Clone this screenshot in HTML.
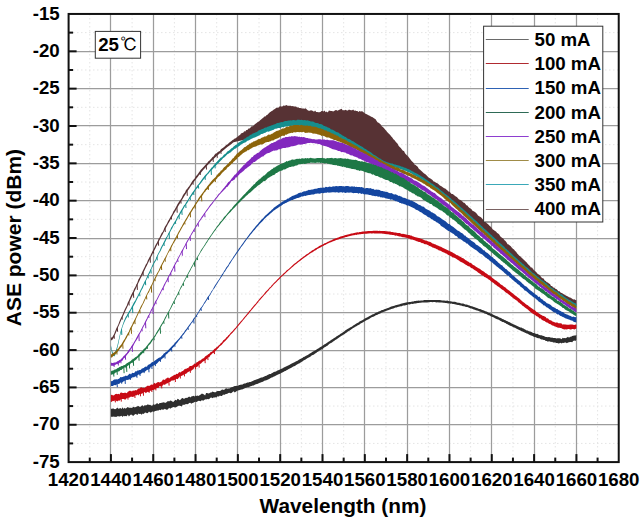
<!DOCTYPE html>
<html><head><meta charset="utf-8"><style>
html,body{margin:0;padding:0;background:#fff;}
body{width:642px;height:520px;overflow:hidden;position:relative;}
svg{position:absolute;left:0;top:0;}
.mi{stroke:#e4e4e4;stroke-width:1;stroke-dasharray:1.5 2.5;}
.ma{stroke:#9c9c9c;stroke-width:1.25;}
.tk line{stroke:#111;stroke-width:2;}
text{font-family:"Liberation Sans",Arial,sans-serif;font-weight:bold;font-size:18.7px;fill:#000;}
</style></head><body>
<svg width="642" height="520" viewBox="0 0 642 520">
<g><line x1="89.76" y1="14" x2="89.76" y2="462" class="mi"/><line x1="132.08" y1="14" x2="132.08" y2="462" class="mi"/><line x1="174.39" y1="14" x2="174.39" y2="462" class="mi"/><line x1="216.71" y1="14" x2="216.71" y2="462" class="mi"/><line x1="259.03" y1="14" x2="259.03" y2="462" class="mi"/><line x1="301.35" y1="14" x2="301.35" y2="462" class="mi"/><line x1="343.67" y1="14" x2="343.67" y2="462" class="mi"/><line x1="385.99" y1="14" x2="385.99" y2="462" class="mi"/><line x1="428.30" y1="14" x2="428.30" y2="462" class="mi"/><line x1="470.62" y1="14" x2="470.62" y2="462" class="mi"/><line x1="512.94" y1="14" x2="512.94" y2="462" class="mi"/><line x1="555.26" y1="14" x2="555.26" y2="462" class="mi"/><line x1="597.58" y1="14" x2="597.58" y2="462" class="mi"/><line x1="69" y1="32.62" x2="618" y2="32.62" class="mi"/><line x1="69" y1="69.97" x2="618" y2="69.97" class="mi"/><line x1="69" y1="107.31" x2="618" y2="107.31" class="mi"/><line x1="69" y1="144.66" x2="618" y2="144.66" class="mi"/><line x1="69" y1="182.00" x2="618" y2="182.00" class="mi"/><line x1="69" y1="219.35" x2="618" y2="219.35" class="mi"/><line x1="69" y1="256.69" x2="618" y2="256.69" class="mi"/><line x1="69" y1="294.04" x2="618" y2="294.04" class="mi"/><line x1="69" y1="331.38" x2="618" y2="331.38" class="mi"/><line x1="69" y1="368.73" x2="618" y2="368.73" class="mi"/><line x1="69" y1="406.07" x2="618" y2="406.07" class="mi"/><line x1="69" y1="443.42" x2="618" y2="443.42" class="mi"/><line x1="110.50" y1="14" x2="110.50" y2="462" class="ma"/><line x1="153.50" y1="14" x2="153.50" y2="462" class="ma"/><line x1="195.50" y1="14" x2="195.50" y2="462" class="ma"/><line x1="237.50" y1="14" x2="237.50" y2="462" class="ma"/><line x1="280.50" y1="14" x2="280.50" y2="462" class="ma"/><line x1="322.50" y1="14" x2="322.50" y2="462" class="ma"/><line x1="364.50" y1="14" x2="364.50" y2="462" class="ma"/><line x1="407.50" y1="14" x2="407.50" y2="462" class="ma"/><line x1="449.50" y1="14" x2="449.50" y2="462" class="ma"/><line x1="491.50" y1="14" x2="491.50" y2="462" class="ma"/><line x1="534.50" y1="14" x2="534.50" y2="462" class="ma"/><line x1="576.50" y1="14" x2="576.50" y2="462" class="ma"/><line x1="69" y1="51.50" x2="618" y2="51.50" class="ma"/><line x1="69" y1="88.50" x2="618" y2="88.50" class="ma"/><line x1="69" y1="125.50" x2="618" y2="125.50" class="ma"/><line x1="69" y1="163.50" x2="618" y2="163.50" class="ma"/><line x1="69" y1="200.50" x2="618" y2="200.50" class="ma"/><line x1="69" y1="238.50" x2="618" y2="238.50" class="ma"/><line x1="69" y1="275.50" x2="618" y2="275.50" class="ma"/><line x1="69" y1="312.50" x2="618" y2="312.50" class="ma"/><line x1="69" y1="350.50" x2="618" y2="350.50" class="ma"/><line x1="69" y1="387.50" x2="618" y2="387.50" class="ma"/><line x1="69" y1="424.50" x2="618" y2="424.50" class="ma"/></g>
<g><polygon fill="#573234" points="110.9,337.6 112.0,337.4 113.0,336.0 114.1,333.9 115.1,331.6 116.2,328.8 117.3,326.5 118.3,324.4 119.4,321.4 120.4,318.9 121.5,316.9 122.6,314.5 123.6,312.1 124.7,309.5 125.7,307.5 126.8,305.4 127.8,302.5 128.9,300.4 130.0,297.7 131.0,295.6 132.1,293.2 133.1,291.4 134.2,288.8 135.3,287.0 136.3,284.7 137.4,282.4 138.4,279.5 139.5,277.8 140.5,275.8 141.6,273.6 142.7,270.9 143.7,269.0 144.8,266.7 145.8,264.6 146.9,263.0 147.9,260.2 149.0,258.3 150.1,256.5 151.1,253.9 152.2,251.9 153.2,249.8 154.3,247.7 155.4,245.2 156.4,243.5 157.5,241.8 158.5,238.9 159.6,237.6 160.6,235.3 161.7,233.0 162.8,231.8 163.8,229.4 164.9,226.8 165.9,225.2 167.0,223.4 168.0,221.2 169.1,219.6 170.2,217.4 171.2,215.7 172.3,214.1 173.3,211.6 174.4,210.0 175.5,207.9 176.5,206.3 177.6,204.1 178.6,202.5 179.7,200.8 180.7,199.4 181.8,197.7 182.9,195.3 183.9,193.8 185.0,192.5 186.0,190.1 187.1,188.9 188.1,187.4 189.2,186.2 190.3,184.5 191.3,182.7 192.4,181.1 193.4,179.7 194.5,178.8 195.6,176.7 196.6,175.4 197.7,174.2 198.7,172.7 199.8,171.3 200.8,169.7 201.9,168.8 203.0,167.4 204.0,166.6 205.1,165.3 206.1,163.9 207.2,163.0 208.2,161.5 209.3,160.8 210.4,159.4 211.4,158.5 212.5,156.9 213.5,156.4 214.6,154.7 215.7,153.6 216.7,153.2 217.8,152.0 218.8,151.4 219.9,151.1 220.9,149.3 222.0,148.4 223.1,147.8 224.1,147.0 225.2,145.9 226.2,145.1 227.3,144.5 228.4,143.6 229.4,142.4 230.5,141.8 231.5,141.1 232.6,140.0 233.6,139.6 234.7,138.4 235.8,138.2 236.8,137.2 237.9,136.4 238.9,135.5 240.0,134.9 241.0,133.5 242.1,133.1 243.2,132.8 244.2,131.3 245.3,131.4 246.3,129.9 247.4,129.9 248.5,128.6 249.5,128.4 250.6,127.4 251.6,126.2 252.7,126.2 253.7,125.5 254.8,124.3 255.9,123.5 256.9,122.7 258.0,121.7 259.0,121.5 260.1,120.2 261.1,119.5 262.2,118.5 263.3,117.7 264.3,116.6 265.4,116.5 266.4,115.2 267.5,114.7 268.6,113.6 269.6,112.5 270.7,111.8 271.7,111.0 272.8,110.4 273.8,109.6 274.9,108.9 276.0,108.0 277.0,107.6 278.1,107.9 279.1,106.7 280.2,106.3 281.2,106.4 282.3,106.4 283.4,105.4 284.4,105.7 285.5,105.5 286.5,105.1 287.6,105.8 288.7,105.7 289.7,105.8 290.8,105.7 291.8,106.2 292.9,106.1 293.9,106.4 295.0,106.4 296.1,106.6 297.1,107.6 298.2,107.3 299.2,107.9 300.3,108.1 301.3,108.3 302.4,108.6 303.5,108.4 304.5,108.8 305.6,108.2 306.6,109.2 307.7,110.2 308.8,110.7 309.8,110.8 310.9,110.2 311.9,110.6 313.0,111.1 314.0,111.8 315.1,110.6 316.2,111.9 317.2,112.1 318.3,112.2 319.3,112.3 320.4,111.9 321.5,111.0 322.5,111.1 323.6,111.4 324.6,110.6 325.7,112.3 326.7,111.6 327.8,112.4 328.9,110.6 329.9,110.7 331.0,111.0 332.0,111.0 333.1,111.5 334.1,111.0 335.2,110.3 336.3,109.9 337.3,110.8 338.4,110.2 339.4,109.7 340.5,109.2 341.6,108.8 342.6,110.2 343.7,110.3 344.7,110.2 345.8,109.8 346.8,110.5 347.9,110.4 349.0,109.6 350.0,110.1 351.1,110.2 352.1,110.2 353.2,109.6 354.2,110.7 355.3,110.5 356.4,111.0 357.4,110.9 358.5,111.9 359.5,111.1 360.6,111.6 361.7,111.2 362.7,111.6 363.8,112.5 364.8,113.2 365.9,114.0 366.9,114.3 368.0,114.9 369.1,115.4 370.1,116.1 371.2,116.8 372.2,116.9 373.3,117.7 374.3,118.5 375.4,118.9 376.5,120.7 377.5,122.2 378.6,122.7 379.6,123.4 380.7,124.5 381.8,126.2 382.8,127.0 383.9,128.1 384.9,129.2 386.0,130.4 387.0,131.8 388.1,132.9 389.2,134.0 390.2,134.9 391.3,136.6 392.3,137.5 393.4,139.3 394.4,139.9 395.5,141.5 396.6,142.8 397.6,143.7 398.7,145.9 399.7,147.1 400.8,147.9 401.9,149.5 402.9,150.7 404.0,151.1 405.0,153.2 406.1,154.4 407.1,155.6 408.2,156.5 409.3,158.0 410.3,159.2 411.4,160.8 412.4,161.7 413.5,162.8 414.5,164.4 415.6,164.9 416.7,166.0 417.7,166.7 418.8,168.8 419.8,169.6 420.9,170.6 422.0,171.6 423.0,172.4 424.1,173.4 425.1,174.1 426.2,175.1 427.2,176.0 428.3,177.3 429.4,177.9 430.4,178.5 431.5,179.2 432.5,179.9 433.6,181.4 434.7,181.8 435.7,182.5 436.8,183.1 437.8,183.6 438.9,184.6 439.9,185.6 441.0,186.0 442.1,186.8 443.1,187.5 444.2,188.3 445.2,188.5 446.3,189.6 447.3,190.2 448.4,191.4 449.5,191.7 450.5,192.8 451.6,193.9 452.6,194.1 453.7,194.8 454.8,195.8 455.8,196.6 456.9,197.1 457.9,198.3 459.0,199.6 460.0,199.8 461.1,200.6 462.2,201.2 463.2,202.5 464.3,202.8 465.3,203.8 466.4,205.3 467.4,205.6 468.5,207.1 469.6,208.1 470.6,208.6 471.7,209.6 472.7,210.9 473.8,211.2 474.9,212.0 475.9,212.7 477.0,214.1 478.0,215.5 479.1,216.3 480.1,216.7 481.2,217.6 482.3,218.7 483.3,219.9 484.4,220.8 485.4,221.9 486.5,222.9 487.5,223.7 488.6,224.8 489.7,225.9 490.7,226.8 491.8,228.0 492.8,229.4 493.9,230.0 495.0,230.9 496.0,231.4 497.1,233.1 498.1,233.4 499.2,234.6 500.2,236.3 501.3,237.3 502.4,238.1 503.4,238.7 504.5,240.2 505.5,241.1 506.6,242.6 507.6,244.2 508.7,244.6 509.8,245.4 510.8,246.3 511.9,247.7 512.9,248.8 514.0,249.6 515.1,251.0 516.1,251.7 517.2,253.5 518.2,254.6 519.3,255.7 520.3,256.3 521.4,257.6 522.5,258.5 523.5,259.5 524.6,260.6 525.6,261.4 526.7,262.4 527.8,264.1 528.8,264.9 529.9,266.1 530.9,267.4 532.0,267.6 533.0,268.9 534.1,270.2 535.2,271.3 536.2,272.1 537.3,273.5 538.3,274.3 539.4,274.8 540.4,275.9 541.5,277.4 542.6,278.2 543.6,278.5 544.7,280.4 545.7,281.1 546.8,282.2 547.9,282.6 548.9,283.5 550.0,284.1 551.0,286.1 552.1,286.1 553.1,287.5 554.2,287.6 555.3,288.7 556.3,288.9 557.4,290.0 558.4,291.2 559.5,291.2 560.5,292.6 561.6,293.1 562.7,293.4 563.7,294.2 564.8,294.8 565.8,295.6 566.9,296.0 568.0,296.5 569.0,297.2 570.1,297.5 571.1,297.9 572.2,298.8 573.2,299.5 574.3,299.2 575.4,300.1 576.4,300.3 576.4,305.8 575.4,305.2 574.3,304.6 573.2,304.0 572.2,303.3 571.1,302.7 570.1,302.0 569.0,301.4 568.0,300.7 566.9,300.0 565.8,299.3 564.8,298.6 563.7,297.9 562.7,297.2 561.6,296.5 560.5,295.8 559.5,295.0 558.4,294.3 557.4,293.5 556.3,292.8 555.3,292.0 554.2,291.2 553.1,290.4 552.1,289.6 551.0,288.8 550.0,288.0 548.9,287.2 547.9,286.4 546.8,285.6 545.7,284.8 544.7,283.9 543.6,283.1 542.6,282.2 541.5,281.4 540.4,280.5 539.4,279.7 538.3,278.8 537.3,277.9 536.2,277.0 535.2,276.1 534.1,275.3 533.0,274.4 532.0,273.5 530.9,272.6 529.9,271.6 528.8,270.7 527.8,269.8 526.7,268.9 525.6,268.0 524.6,267.0 523.5,266.1 522.5,265.2 521.4,264.2 520.3,263.3 519.3,262.3 518.2,261.4 517.2,260.4 516.1,259.5 515.1,258.5 514.0,257.6 512.9,256.6 511.9,255.6 510.8,254.7 509.8,253.7 508.7,252.7 507.6,251.7 506.6,250.8 505.5,249.8 504.5,248.8 503.4,247.8 502.4,246.8 501.3,245.9 500.2,244.9 499.2,243.9 498.1,242.9 497.1,241.9 496.0,240.9 495.0,239.9 493.9,239.0 492.8,238.0 491.8,237.0 490.7,236.0 489.7,235.0 488.6,234.0 487.5,233.0 486.5,232.0 485.4,231.1 484.4,230.1 483.3,229.1 482.3,228.1 481.2,227.1 480.1,226.1 479.1,225.2 478.0,224.2 477.0,223.2 475.9,222.2 474.9,221.3 473.8,220.3 472.7,219.3 471.7,218.3 470.6,217.4 469.6,216.4 468.5,215.5 467.4,214.5 466.4,213.6 465.3,212.6 464.3,211.7 463.2,210.7 462.2,209.8 461.1,208.8 460.0,207.9 459.0,207.0 457.9,206.0 456.9,205.1 455.8,204.2 454.8,203.3 453.7,202.4 452.6,201.5 451.6,200.6 450.5,199.7 449.5,198.8 448.4,197.9 447.3,197.0 446.3,196.1 445.2,195.3 444.2,194.4 443.1,193.6 442.1,192.7 441.0,191.9 439.9,191.0 438.9,190.2 437.8,189.4 436.8,188.6 435.7,187.8 434.7,187.0 433.6,186.2 432.5,185.4 431.5,184.6 430.4,183.9 429.4,183.1 428.3,182.4 427.2,181.6 426.2,180.9 425.1,180.2 424.1,179.5 423.0,178.8 422.0,178.2 420.9,177.5 419.8,176.9 418.8,176.2 417.7,175.6 416.7,175.0 415.6,174.4 414.5,173.8 413.5,173.3 412.4,172.7 411.4,172.2 410.3,171.7 409.3,171.1 408.2,170.7 407.1,170.2 406.1,169.7 405.0,169.3 404.0,168.9 402.9,168.4 401.9,168.1 400.8,167.7 399.7,167.3 398.7,167.0 397.6,166.7 396.6,166.4 395.5,166.1 394.4,165.8 393.4,165.6 392.3,165.3 391.3,165.0 390.2,164.7 389.2,164.4 388.1,164.1 387.0,163.7 386.0,163.3 384.9,162.9 383.9,162.4 382.8,161.8 381.8,161.2 380.7,160.6 379.6,160.0 378.6,159.3 377.5,158.6 376.5,157.9 375.4,157.2 374.3,156.5 373.3,155.8 372.2,155.1 371.2,154.4 370.1,153.7 369.1,153.0 368.0,152.4 366.9,151.7 365.9,151.0 364.8,150.3 363.8,149.7 362.7,149.0 361.7,148.4 360.6,147.7 359.5,147.1 358.5,146.4 357.4,145.8 356.4,145.2 355.3,144.6 354.2,143.9 353.2,143.3 352.1,142.7 351.1,142.1 350.0,141.5 349.0,140.9 347.9,140.3 346.8,139.7 345.8,139.1 344.7,138.5 343.7,137.9 342.6,137.4 341.6,136.8 340.5,136.2 339.4,135.7 338.4,135.1 337.3,134.6 336.3,134.0 335.2,133.5 334.1,133.0 333.1,132.5 332.0,132.0 331.0,131.5 329.9,131.0 328.9,130.5 327.8,130.0 326.7,129.6 325.7,129.2 324.6,128.7 323.6,128.3 322.5,127.9 321.5,127.5 320.4,127.1 319.3,126.7 318.3,126.4 317.2,126.0 316.2,125.7 315.1,125.4 314.0,125.1 313.0,124.8 311.9,124.6 310.9,124.3 309.8,124.1 308.8,123.9 307.7,123.7 306.6,123.5 305.6,123.3 304.5,123.2 303.5,123.1 302.4,123.0 301.3,122.9 300.3,122.8 299.2,122.8 298.2,122.8 297.1,122.8 296.1,122.8 295.0,122.8 293.9,122.9 292.9,123.0 291.8,123.1 290.8,123.2 289.7,123.3 288.7,123.4 287.6,123.6 286.5,123.8 285.5,124.0 284.4,124.2 283.4,124.4 282.3,124.6 281.2,124.9 280.2,125.2 279.1,125.4 278.1,125.7 277.0,126.0 276.0,126.4 274.9,126.7 273.8,127.0 272.8,127.4 271.7,127.8 270.7,128.1 269.6,128.5 268.6,128.9 267.5,129.3 266.4,129.8 265.4,130.2 264.3,130.6 263.3,131.1 262.2,131.5 261.1,132.0 260.1,132.5 259.0,133.0 258.0,133.5 256.9,134.0 255.9,134.5 254.8,135.0 253.7,135.5 252.7,136.1 251.6,136.6 250.6,137.2 249.5,137.8 248.5,138.4 247.4,139.0 246.3,139.2 245.3,139.4 244.2,139.7 243.2,139.9 242.1,140.2 241.0,140.4 240.0,140.7 238.9,140.9 237.9,141.2 236.8,141.5 235.8,141.7 234.7,142.0 233.6,142.3 232.6,143.1 231.5,143.9 230.5,144.7 229.4,145.5 228.4,146.3 227.3,147.1 226.2,148.0 225.2,148.8 224.1,149.7 223.1,150.5 222.0,151.4 220.9,152.3 219.9,153.2 218.8,154.2 217.8,155.1 216.7,156.1 215.7,157.0 214.6,158.0 213.5,159.1 212.5,160.1 211.4,161.1 210.4,162.2 209.3,163.3 208.2,164.4 207.2,165.6 206.1,166.7 205.1,167.9 204.0,169.1 203.0,170.3 201.9,171.6 200.8,172.9 199.8,174.2 198.7,175.5 197.7,176.9 196.6,178.3 195.6,179.7 194.5,181.1 193.4,182.6 192.4,184.1 191.3,185.6 190.3,187.1 189.2,188.7 188.1,190.2 187.1,191.8 186.0,193.5 185.0,195.1 183.9,196.8 182.9,198.5 181.8,200.2 180.7,201.9 179.7,203.7 178.6,205.4 177.6,207.2 176.5,209.0 175.5,210.9 174.4,212.7 173.3,214.6 172.3,216.4 171.2,218.3 170.2,220.2 169.1,222.2 168.0,224.1 167.0,226.1 165.9,228.0 164.9,230.0 163.8,232.0 162.8,234.0 161.7,236.0 160.6,238.1 159.6,240.1 158.5,242.2 157.5,244.2 156.4,246.3 155.4,248.4 154.3,250.5 153.2,252.6 152.2,254.7 151.1,256.9 150.1,259.0 149.0,261.1 147.9,263.3 146.9,265.4 145.8,267.6 144.8,269.8 143.7,272.0 142.7,274.2 141.6,276.4 140.5,278.6 139.5,280.8 138.4,283.0 137.4,285.3 136.3,287.5 135.3,289.7 134.2,292.0 133.1,294.3 132.1,296.5 131.0,298.8 130.0,301.1 128.9,303.4 127.8,305.7 126.8,308.0 125.7,310.3 124.7,312.6 123.6,314.9 122.6,317.2 121.5,319.6 120.4,321.9 119.4,324.3 118.3,326.8 117.3,329.3 116.2,331.9 115.1,334.5 114.1,337.0 113.0,338.9 112.0,340.1 110.9,340.4"/><path d="M114.1,335.6l0.3,3.1M117.3,327.8l0.3,3.9M122.0,316.9l0.3,2.7M128.9,301.9l0.3,3.6M133.4,292.2l0.3,5.6M137.1,284.3l0.3,5.6M143.0,271.9l0.3,3.7M150.1,257.4l0.3,5.3M153.3,251.0l0.3,2.5M158.3,241.0l0.3,4.7M165.0,228.2l0.3,3.8M171.3,216.7l0.3,2.8M176.9,206.9l0.3,5.8M180.8,200.3l0.3,3.3M187.0,190.5l0.3,5.3M192.9,181.8l0.3,2.9M200.1,172.3l0.3,2.6M206.2,165.1l0.3,4.4M213.0,158.1l0.3,3.8M217.0,154.3l0.3,3.6M220.8,150.9l0.3,3.0" stroke="#573234" stroke-width="1" fill="none"/><polygon fill="#158e8e" points="110.9,345.2 112.0,350.3 113.0,353.3 114.1,353.7 115.1,352.1 116.2,349.6 117.3,345.7 118.3,341.5 119.4,336.5 120.4,332.0 121.5,328.2 122.6,324.9 123.6,322.0 124.7,319.2 125.7,317.1 126.8,315.5 127.8,313.4 128.9,311.5 130.0,309.9 131.0,308.2 132.1,306.0 133.1,304.0 134.2,302.0 135.3,300.5 136.3,298.2 137.4,296.3 138.4,294.3 139.5,292.2 140.5,289.9 141.6,288.0 142.7,285.5 143.7,283.5 144.8,281.2 145.8,279.4 146.9,276.9 147.9,274.6 149.0,272.4 150.1,270.2 151.1,268.2 152.2,265.5 153.2,263.4 154.3,261.3 155.4,259.7 156.4,257.2 157.5,254.8 158.5,252.8 159.6,250.9 160.6,248.3 161.7,246.1 162.8,244.3 163.8,242.1 164.9,240.1 165.9,237.8 167.0,236.2 168.0,234.2 169.1,232.0 170.2,230.0 171.2,227.5 172.3,226.1 173.3,224.0 174.4,222.3 175.5,220.4 176.5,218.4 177.6,216.3 178.6,214.9 179.7,212.8 180.7,211.1 181.8,209.3 182.9,207.6 183.9,205.5 185.0,204.5 186.0,202.6 187.1,201.1 188.1,199.6 189.2,197.6 190.3,195.7 191.3,194.2 192.4,192.6 193.4,191.2 194.5,189.8 195.6,187.9 196.6,186.8 197.7,185.0 198.7,183.9 199.8,182.4 200.8,180.9 201.9,179.6 203.0,178.1 204.0,176.7 205.1,175.2 206.1,174.2 207.2,173.2 208.2,172.0 209.3,170.6 210.4,169.2 211.4,167.7 212.5,167.0 213.5,165.4 214.6,164.3 215.7,163.1 216.7,162.0 217.8,160.8 218.8,159.8 219.9,158.5 220.9,157.6 222.0,157.2 223.1,155.7 224.1,154.6 225.2,153.9 226.2,152.9 227.3,151.5 228.4,150.9 229.4,150.3 230.5,149.2 231.5,148.3 232.6,147.8 233.6,146.4 234.7,145.8 235.8,144.8 236.8,144.6 237.9,143.1 238.9,142.5 240.0,141.8 241.0,141.2 242.1,140.5 243.2,139.9 244.2,138.7 245.3,138.4 246.3,137.5 247.4,136.8 248.5,136.4 249.5,135.5 250.6,134.7 251.6,134.4 252.7,133.6 253.7,133.2 254.8,132.8 255.9,132.3 256.9,132.0 258.0,131.1 259.0,130.3 260.1,130.0 261.1,129.5 262.2,128.9 263.3,128.8 264.3,128.1 265.4,127.4 266.4,127.4 267.5,126.8 268.6,126.5 269.6,126.0 270.7,125.7 271.7,125.2 272.8,125.1 273.8,124.5 274.9,124.2 276.0,123.8 277.0,123.1 278.1,123.1 279.1,122.7 280.2,122.5 281.2,121.9 282.3,122.3 283.4,121.7 284.4,121.2 285.5,120.9 286.5,121.0 287.6,120.8 288.7,120.5 289.7,120.5 290.8,120.2 291.8,120.4 292.9,120.0 293.9,120.0 295.0,120.2 296.1,120.5 297.1,119.7 298.2,119.8 299.2,119.7 300.3,120.1 301.3,119.7 302.4,120.0 303.5,120.2 304.5,120.1 305.6,120.2 306.6,120.5 307.7,120.3 308.8,120.7 309.8,121.1 310.9,121.5 311.9,121.6 313.0,121.5 314.0,122.1 315.1,122.7 316.2,122.9 317.2,123.1 318.3,123.3 319.3,124.0 320.4,124.1 321.5,124.3 322.5,124.8 323.6,125.7 324.6,125.9 325.7,126.6 326.7,126.7 327.8,127.5 328.9,127.7 329.9,128.3 331.0,129.4 332.0,129.6 333.1,129.9 334.1,130.5 335.2,131.2 336.3,132.0 337.3,132.2 338.4,132.6 339.4,133.5 340.5,134.1 341.6,134.8 342.6,135.6 343.7,136.0 344.7,136.7 345.8,137.0 346.8,137.9 347.9,138.7 349.0,139.1 350.0,139.6 351.1,140.2 352.1,141.1 353.2,141.3 354.2,142.1 355.3,142.8 356.4,143.5 357.4,143.9 358.5,144.7 359.5,145.3 360.6,146.0 361.7,146.6 362.7,147.1 363.8,147.9 364.8,148.7 365.9,149.1 366.9,149.9 368.0,150.7 369.1,151.2 370.1,152.0 371.2,152.6 372.2,153.6 373.3,154.4 374.3,155.1 375.4,155.5 376.5,156.3 377.5,157.0 378.6,157.7 379.6,158.5 380.7,158.8 381.8,159.8 382.8,160.2 383.9,161.0 384.9,161.3 386.0,161.7 387.0,162.2 388.1,162.6 389.2,162.9 390.2,163.2 391.3,163.4 392.3,163.5 393.4,164.1 394.4,164.4 395.5,164.6 396.6,164.9 397.6,165.3 398.7,165.4 399.7,165.7 400.8,166.2 401.9,166.7 402.9,166.8 404.0,167.5 405.0,167.7 406.1,168.1 407.1,168.8 408.2,169.1 409.3,169.5 410.3,170.1 411.4,170.8 412.4,171.3 413.5,171.7 414.5,172.4 415.6,173.0 416.7,173.4 417.7,174.1 418.8,174.7 419.8,175.3 420.9,176.0 422.0,176.7 423.0,177.3 424.1,178.0 425.1,178.7 426.2,179.6 427.2,180.2 428.3,181.0 429.4,181.8 430.4,182.4 431.5,183.4 432.5,183.8 433.6,184.8 434.7,185.4 435.7,186.5 436.8,187.3 437.8,187.6 438.9,188.6 439.9,189.6 441.0,190.5 442.1,191.3 443.1,192.0 444.2,193.0 445.2,193.9 446.3,194.6 447.3,195.6 448.4,196.1 449.5,197.4 450.5,198.1 451.6,199.2 452.6,199.9 453.7,200.8 454.8,201.8 455.8,202.6 456.9,203.5 457.9,204.4 459.0,205.5 460.0,206.5 461.1,207.4 462.2,208.2 463.2,209.3 464.3,210.2 465.3,211.1 466.4,212.1 467.4,213.1 468.5,213.9 469.6,214.9 470.6,215.9 471.7,216.8 472.7,217.7 473.8,218.9 474.9,219.7 475.9,220.8 477.0,221.6 478.0,222.7 479.1,223.7 480.1,224.6 481.2,225.8 482.3,226.6 483.3,227.8 484.4,228.7 485.4,229.4 486.5,230.5 487.5,231.6 488.6,232.5 489.7,233.5 490.7,234.4 491.8,235.2 492.8,236.4 493.9,237.2 495.0,238.5 496.0,239.3 497.1,240.3 498.1,241.3 499.2,242.4 500.2,243.2 501.3,244.1 502.4,245.2 503.4,246.0 504.5,247.1 505.5,248.4 506.6,249.1 507.6,250.3 508.7,251.0 509.8,252.2 510.8,253.1 511.9,254.1 512.9,255.1 514.0,256.2 515.1,257.0 516.1,257.9 517.2,258.7 518.2,259.9 519.3,260.7 520.3,261.8 521.4,262.6 522.5,263.8 523.5,264.3 524.6,265.4 525.6,266.5 526.7,267.3 527.8,268.1 528.8,269.1 529.9,269.9 530.9,271.0 532.0,272.2 533.0,272.9 534.1,273.5 535.2,274.4 536.2,275.3 537.3,276.5 538.3,277.0 539.4,277.9 540.4,279.1 541.5,279.9 542.6,280.5 543.6,281.2 544.7,282.0 545.7,283.0 546.8,283.5 547.9,284.9 548.9,285.5 550.0,286.5 551.0,287.6 552.1,288.2 553.1,288.5 554.2,289.7 555.3,290.6 556.3,290.9 557.4,291.6 558.4,292.6 559.5,293.0 560.5,294.4 561.6,294.3 562.7,295.3 563.7,296.2 564.8,296.9 565.8,297.7 566.9,298.4 568.0,298.9 569.0,299.9 570.1,299.9 571.1,301.0 572.2,301.5 573.2,302.3 574.3,302.9 575.4,303.3 576.4,303.9 576.4,307.2 575.4,307.6 574.3,306.5 573.2,305.3 572.2,305.2 571.1,304.6 570.1,303.7 569.0,303.0 568.0,302.6 566.9,302.0 565.8,301.5 564.8,300.0 563.7,299.7 562.7,298.9 561.6,298.2 560.5,297.3 559.5,296.6 558.4,295.8 557.4,295.3 556.3,294.3 555.3,293.9 554.2,293.0 553.1,292.2 552.1,291.7 551.0,290.7 550.0,289.4 548.9,289.4 547.9,288.2 546.8,287.2 545.7,286.7 544.7,285.7 543.6,285.1 542.6,284.0 541.5,283.3 540.4,281.9 539.4,281.2 538.3,280.3 537.3,279.7 536.2,278.6 535.2,277.7 534.1,276.7 533.0,275.8 532.0,274.9 530.9,274.1 529.9,273.2 528.8,272.4 527.8,271.7 526.7,270.6 525.6,269.5 524.6,268.7 523.5,267.6 522.5,266.7 521.4,265.9 520.3,264.9 519.3,263.8 518.2,262.9 517.2,262.0 516.1,260.9 515.1,260.1 514.0,259.2 512.9,258.0 511.9,257.3 510.8,256.1 509.8,255.0 508.7,254.3 507.6,253.2 506.6,252.6 505.5,251.3 504.5,250.5 503.4,249.4 502.4,248.4 501.3,247.3 500.2,246.2 499.2,245.4 498.1,244.4 497.1,243.5 496.0,242.3 495.0,241.7 493.9,240.8 492.8,239.2 491.8,238.4 490.7,237.7 489.7,236.3 488.6,235.7 487.5,234.5 486.5,233.7 485.4,232.8 484.4,231.7 483.3,230.5 482.3,229.5 481.2,228.5 480.1,227.7 479.1,226.7 478.0,225.6 477.0,224.7 475.9,223.6 474.9,222.7 473.8,221.6 472.7,220.8 471.7,219.8 470.6,219.0 469.6,218.0 468.5,217.0 467.4,216.1 466.4,215.0 465.3,214.2 464.3,213.1 463.2,212.3 462.2,211.6 461.1,210.5 460.0,209.3 459.0,208.3 457.9,207.4 456.9,206.7 455.8,205.6 454.8,205.0 453.7,203.9 452.6,202.8 451.6,202.0 450.5,201.0 449.5,200.4 448.4,199.4 447.3,198.4 446.3,197.8 445.2,196.8 444.2,196.1 443.1,195.3 442.1,194.2 441.0,193.3 439.9,192.4 438.9,191.7 437.8,190.7 436.8,189.8 435.7,189.2 434.7,188.3 433.6,187.7 432.5,187.1 431.5,186.3 430.4,185.5 429.4,184.5 428.3,184.1 427.2,183.2 426.2,182.8 425.1,181.4 424.1,180.9 423.0,180.4 422.0,179.5 420.9,179.0 419.8,178.5 418.8,177.9 417.7,177.2 416.7,176.4 415.6,176.2 414.5,175.1 413.5,174.9 412.4,174.3 411.4,173.6 410.3,172.9 409.3,172.6 408.2,172.2 407.1,171.6 406.1,171.0 405.0,170.8 404.0,170.4 402.9,169.9 401.9,169.6 400.8,169.3 399.7,168.7 398.7,168.3 397.6,168.2 396.6,167.9 395.5,167.5 394.4,167.2 393.4,167.1 392.3,167.0 391.3,166.5 390.2,166.3 389.2,166.1 388.1,165.6 387.0,165.1 386.0,165.2 384.9,164.5 383.9,164.0 382.8,163.2 381.8,162.7 380.7,162.0 379.6,161.5 378.6,160.7 377.5,160.1 376.5,159.4 375.4,158.9 374.3,158.0 373.3,157.4 372.2,156.8 371.2,156.2 370.1,155.5 369.1,154.8 368.0,154.0 366.9,153.2 365.9,152.9 364.8,152.0 363.8,151.5 362.7,151.0 361.7,150.3 360.6,149.9 359.5,149.0 358.5,148.0 357.4,147.6 356.4,147.0 355.3,146.7 354.2,146.0 353.2,145.0 352.1,144.6 351.1,144.0 350.0,143.6 349.0,142.8 347.9,142.1 346.8,141.2 345.8,141.1 344.7,140.6 343.7,139.8 342.6,139.6 341.6,138.6 340.5,138.5 339.4,137.8 338.4,137.5 337.3,136.9 336.3,136.2 335.2,135.9 334.1,135.1 333.1,135.3 332.0,134.5 331.0,134.0 329.9,133.7 328.9,133.3 327.8,132.8 326.7,132.4 325.7,132.2 324.6,132.0 323.6,131.3 322.5,131.1 321.5,130.2 320.4,130.4 319.3,129.3 318.3,129.0 317.2,128.6 316.2,128.7 315.1,128.7 314.0,128.3 313.0,127.8 311.9,127.8 310.9,127.4 309.8,127.1 308.8,126.7 307.7,126.4 306.6,126.5 305.6,126.5 304.5,126.3 303.5,126.2 302.4,125.9 301.3,125.8 300.3,126.1 299.2,125.5 298.2,126.3 297.1,125.6 296.1,125.8 295.0,125.6 293.9,125.9 292.9,125.8 291.8,125.7 290.8,125.9 289.7,126.3 288.7,126.1 287.6,126.5 286.5,126.6 285.5,126.4 284.4,126.8 283.4,127.5 282.3,127.1 281.2,127.4 280.2,128.1 279.1,128.1 278.1,128.1 277.0,128.5 276.0,128.8 274.9,128.8 273.8,129.7 272.8,130.1 271.7,130.5 270.7,130.7 269.6,131.2 268.6,131.7 267.5,131.6 266.4,132.1 265.4,132.8 264.3,133.0 263.3,133.5 262.2,133.9 261.1,134.1 260.1,134.9 259.0,135.5 258.0,136.0 256.9,136.5 255.9,137.0 254.8,137.4 253.7,137.8 252.7,138.2 251.6,138.7 250.6,139.3 249.5,140.1 248.5,140.6 247.4,140.8 246.3,141.7 245.3,142.5 244.2,142.7 243.2,143.2 242.1,144.0 241.0,144.5 240.0,145.4 238.9,146.3 237.9,146.9 236.8,147.4 235.8,148.4 234.7,148.8 233.6,149.7 232.6,150.5 231.5,151.6 230.5,152.4 229.4,153.0 228.4,153.7 227.3,154.3 226.2,155.6 225.2,156.4 224.1,157.6 223.1,158.1 222.0,159.6 220.9,160.4 219.9,161.4 218.8,162.8 217.8,163.8 216.7,164.8 215.7,165.9 214.6,166.7 213.5,168.1 212.5,169.2 211.4,170.3 210.4,171.3 209.3,172.5 208.2,173.9 207.2,174.8 206.1,176.4 205.1,177.8 204.0,179.1 203.0,180.3 201.9,181.7 200.8,183.2 199.8,184.5 198.7,185.6 197.7,187.8 196.6,188.7 195.6,190.1 194.5,191.9 193.4,193.4 192.4,195.1 191.3,196.6 190.3,198.1 189.2,199.6 188.1,201.5 187.1,203.2 186.0,204.6 185.0,206.1 183.9,208.0 182.9,209.8 181.8,211.8 180.7,213.5 179.7,215.2 178.6,217.0 177.6,218.6 176.5,221.1 175.5,222.5 174.4,224.4 173.3,226.1 172.3,228.2 171.2,229.9 170.2,232.0 169.1,234.2 168.0,236.1 167.0,238.1 165.9,240.4 164.9,242.6 163.8,244.4 162.8,246.3 161.7,248.5 160.6,250.9 159.6,252.5 158.5,254.6 157.5,257.1 156.4,259.4 155.4,261.4 154.3,263.2 153.2,265.7 152.2,267.6 151.1,270.1 150.1,272.7 149.0,274.6 147.9,277.0 146.9,279.1 145.8,281.3 144.8,283.4 143.7,285.8 142.7,288.2 141.6,289.9 140.5,292.4 139.5,294.3 138.4,296.5 137.4,298.6 136.3,300.7 135.3,302.7 134.2,304.7 133.1,306.8 132.1,308.4 131.0,310.2 130.0,312.2 128.9,313.8 127.8,315.7 126.8,317.4 125.7,319.5 124.7,321.4 123.6,323.9 122.6,326.7 121.5,330.2 120.4,334.4 119.4,339.1 118.3,344.2 117.3,348.2 116.2,351.6 115.1,355.2 114.1,356.4 113.0,355.4 112.0,352.9 110.9,347.7"/><path d="M116.6,349.5l0.3,3.7M121.5,329.2l0.3,5.7M128.1,314.2l0.3,3.3M132.5,306.6l0.3,6.5M139.6,293.0l0.3,3.2M145.4,281.1l0.3,4.1M148.0,275.8l0.3,2.5M150.9,269.6l0.3,3.9M157.0,256.9l0.3,3.5M163.9,243.0l0.3,3.0M169.1,232.9l0.3,6.1M175.4,221.6l0.3,2.3M179.0,215.3l0.3,3.9M181.8,210.5l0.3,4.4M185.7,204.1l0.3,3.9M190.1,197.3l0.3,2.8M193.6,192.1l0.3,2.9M198.4,185.4l0.3,3.2M205.0,176.7l0.3,3.1M211.1,169.4l0.3,5.5M214.9,165.2l0.3,3.2" stroke="#158e8e" stroke-width="1" fill="none"/><polygon fill="#8c640a" points="110.9,354.6 112.0,354.0 113.0,353.1 114.1,352.6 115.1,351.8 116.2,350.8 117.3,349.3 118.3,348.5 119.4,346.7 120.4,345.5 121.5,344.3 122.6,342.2 123.6,340.5 124.7,339.1 125.7,336.9 126.8,335.1 127.8,333.2 128.9,331.4 130.0,328.6 131.0,326.8 132.1,324.7 133.1,322.5 134.2,320.4 135.3,318.2 136.3,316.2 137.4,313.7 138.4,311.7 139.5,309.6 140.5,307.1 141.6,305.1 142.7,303.2 143.7,300.8 144.8,298.4 145.8,296.3 146.9,294.0 147.9,292.0 149.0,289.9 150.1,287.5 151.1,285.4 152.2,283.5 153.2,281.0 154.3,279.0 155.4,276.7 156.4,274.6 157.5,272.5 158.5,270.9 159.6,268.3 160.6,266.2 161.7,264.1 162.8,262.1 163.8,260.1 164.9,258.0 165.9,256.3 167.0,253.9 168.0,252.1 169.1,249.8 170.2,247.8 171.2,245.4 172.3,243.7 173.3,241.7 174.4,239.7 175.5,237.4 176.5,236.0 177.6,233.8 178.6,231.8 179.7,229.9 180.7,228.0 181.8,226.2 182.9,224.1 183.9,222.3 185.0,220.6 186.0,218.8 187.1,216.9 188.1,215.0 189.2,213.2 190.3,211.6 191.3,210.1 192.4,208.0 193.4,206.8 194.5,205.0 195.6,203.1 196.6,201.7 197.7,199.7 198.7,198.0 199.8,196.6 200.8,195.2 201.9,193.7 203.0,192.2 204.0,190.9 205.1,189.0 206.1,188.2 207.2,186.4 208.2,185.2 209.3,184.0 210.4,182.5 211.4,181.2 212.5,180.1 213.5,179.1 214.6,178.0 215.7,176.9 216.7,175.3 217.8,174.2 218.8,173.0 219.9,172.2 220.9,170.4 222.0,170.2 223.1,168.6 224.1,167.3 225.2,166.5 226.2,165.6 227.3,164.3 228.4,163.4 229.4,161.9 230.5,161.2 231.5,160.0 232.6,158.4 233.6,157.9 234.7,156.3 235.8,155.2 236.8,153.8 237.9,153.1 238.9,152.3 240.0,151.0 241.0,150.4 242.1,149.5 243.2,148.6 244.2,147.3 245.3,146.9 246.3,146.3 247.4,145.2 248.5,144.7 249.5,143.5 250.6,143.5 251.6,142.6 252.7,142.3 253.7,141.2 254.8,141.2 255.9,140.5 256.9,140.2 258.0,139.3 259.0,138.9 260.1,139.1 261.1,137.9 262.2,137.5 263.3,137.2 264.3,136.5 265.4,136.6 266.4,136.3 267.5,135.3 268.6,134.6 269.6,134.8 270.7,134.4 271.7,133.8 272.8,133.4 273.8,132.4 274.9,132.1 276.0,131.3 277.0,130.8 278.1,130.8 279.1,130.0 280.2,130.2 281.2,129.2 282.3,128.5 283.4,128.4 284.4,128.2 285.5,127.5 286.5,126.7 287.6,126.8 288.7,126.7 289.7,125.9 290.8,125.6 291.8,125.8 292.9,125.4 293.9,125.0 295.0,125.1 296.1,124.9 297.1,125.1 298.2,125.0 299.2,125.3 300.3,125.2 301.3,124.7 302.4,125.2 303.5,125.4 304.5,125.4 305.6,125.7 306.6,125.4 307.7,125.5 308.8,126.1 309.8,125.8 310.9,125.7 311.9,126.7 313.0,126.5 314.0,126.8 315.1,126.8 316.2,127.1 317.2,127.4 318.3,127.9 319.3,128.4 320.4,128.1 321.5,129.1 322.5,129.0 323.6,129.4 324.6,130.2 325.7,130.5 326.7,130.5 327.8,131.8 328.9,131.6 329.9,132.3 331.0,132.8 332.0,133.5 333.1,133.6 334.1,134.4 335.2,134.6 336.3,135.5 337.3,135.6 338.4,136.3 339.4,137.2 340.5,137.5 341.6,138.0 342.6,138.9 343.7,139.1 344.7,139.5 345.8,140.3 346.8,140.6 347.9,141.5 349.0,142.1 350.0,142.4 351.1,143.0 352.1,143.7 353.2,144.3 354.2,144.7 355.3,145.6 356.4,145.8 357.4,146.6 358.5,147.2 359.5,147.9 360.6,148.5 361.7,148.9 362.7,149.8 363.8,150.3 364.8,150.8 365.9,151.3 366.9,152.0 368.0,152.8 369.1,153.2 370.1,153.9 371.2,154.7 372.2,155.3 373.3,156.0 374.3,156.3 375.4,156.8 376.5,157.7 377.5,158.2 378.6,158.9 379.6,159.4 380.7,160.1 381.8,160.7 382.8,161.2 383.9,161.7 384.9,162.3 386.0,162.8 387.0,163.3 388.1,163.8 389.2,164.1 390.2,164.9 391.3,165.1 392.3,165.7 393.4,166.0 394.4,166.4 395.5,167.2 396.6,167.3 397.6,167.6 398.7,168.1 399.7,168.6 400.8,169.4 401.9,169.5 402.9,170.1 404.0,170.3 405.0,170.9 406.1,171.4 407.1,172.0 408.2,172.2 409.3,172.8 410.3,173.3 411.4,173.6 412.4,174.2 413.5,174.7 414.5,174.9 415.6,175.8 416.7,176.4 417.7,176.8 418.8,177.2 419.8,178.1 420.9,178.6 422.0,179.2 423.0,179.9 424.1,180.2 425.1,181.1 426.2,181.6 427.2,182.2 428.3,182.9 429.4,183.6 430.4,184.5 431.5,185.0 432.5,185.7 433.6,186.5 434.7,187.3 435.7,187.9 436.8,188.7 437.8,189.6 438.9,190.3 439.9,191.2 441.0,191.9 442.1,193.2 443.1,193.9 444.2,194.6 445.2,195.4 446.3,196.6 447.3,197.2 448.4,198.1 449.5,199.0 450.5,199.9 451.6,201.0 452.6,201.7 453.7,203.0 454.8,203.5 455.8,204.6 456.9,205.3 457.9,206.7 459.0,207.3 460.0,208.3 461.1,209.4 462.2,210.4 463.2,211.1 464.3,212.1 465.3,213.0 466.4,214.2 467.4,215.1 468.5,216.0 469.6,217.0 470.6,218.0 471.7,218.9 472.7,220.1 473.8,221.2 474.9,221.7 475.9,222.9 477.0,223.9 478.0,225.0 479.1,225.8 480.1,226.9 481.2,227.7 482.3,229.0 483.3,229.9 484.4,230.8 485.4,231.9 486.5,232.8 487.5,233.5 488.6,234.8 489.7,235.8 490.7,236.7 491.8,237.8 492.8,238.9 493.9,239.5 495.0,240.5 496.0,241.8 497.1,242.8 498.1,243.4 499.2,244.3 500.2,245.4 501.3,246.4 502.4,247.2 503.4,248.4 504.5,249.1 505.5,250.1 506.6,251.4 507.6,252.1 508.7,253.1 509.8,254.2 510.8,255.2 511.9,255.9 512.9,257.0 514.0,257.8 515.1,259.1 516.1,259.9 517.2,260.5 518.2,261.6 519.3,262.7 520.3,263.5 521.4,264.7 522.5,265.5 523.5,266.1 524.6,267.1 525.6,267.8 526.7,269.0 527.8,269.9 528.8,271.2 529.9,271.7 530.9,272.2 532.0,273.3 533.0,274.3 534.1,275.0 535.2,275.8 536.2,276.8 537.3,277.9 538.3,278.6 539.4,279.3 540.4,280.5 541.5,281.1 542.6,281.9 543.6,282.5 544.7,283.5 545.7,284.7 546.8,285.0 547.9,286.2 548.9,287.2 550.0,287.7 551.0,288.7 552.1,289.1 553.1,290.5 554.2,291.2 555.3,291.8 556.3,292.1 557.4,293.1 558.4,294.3 559.5,295.2 560.5,295.6 561.6,296.6 562.7,296.9 563.7,297.7 564.8,298.5 565.8,299.3 566.9,299.6 568.0,300.9 569.0,301.6 570.1,301.8 571.1,302.4 572.2,303.5 573.2,303.9 574.3,304.2 575.4,305.6 576.4,306.1 576.4,309.5 575.4,309.1 574.3,308.1 573.2,307.6 572.2,306.8 571.1,306.1 570.1,305.2 569.0,305.0 568.0,304.2 566.9,303.7 565.8,302.6 564.8,301.8 563.7,301.4 562.7,300.5 561.6,299.8 560.5,299.1 559.5,298.3 558.4,298.0 557.4,297.1 556.3,296.3 555.3,295.7 554.2,294.4 553.1,294.4 552.1,293.5 551.0,292.4 550.0,291.8 548.9,290.9 547.9,289.6 546.8,289.1 545.7,288.3 544.7,287.0 543.6,286.5 542.6,285.4 541.5,284.8 540.4,284.2 539.4,283.4 538.3,282.5 537.3,281.7 536.2,280.8 535.2,280.2 534.1,279.3 533.0,278.3 532.0,277.5 530.9,276.5 529.9,275.6 528.8,275.0 527.8,273.9 526.7,272.8 525.6,271.8 524.6,271.1 523.5,270.1 522.5,269.3 521.4,268.3 520.3,267.3 519.3,266.5 518.2,265.8 517.2,264.5 516.1,263.7 515.1,262.4 514.0,261.9 512.9,261.0 511.9,259.9 510.8,259.4 509.8,258.2 508.7,257.0 507.6,256.1 506.6,255.3 505.5,254.3 504.5,253.1 503.4,252.3 502.4,251.4 501.3,250.5 500.2,249.5 499.2,248.4 498.1,247.6 497.1,246.5 496.0,245.7 495.0,244.6 493.9,243.8 492.8,242.5 491.8,241.6 490.7,240.6 489.7,239.6 488.6,238.5 487.5,237.8 486.5,236.9 485.4,235.6 484.4,235.0 483.3,233.6 482.3,232.8 481.2,231.9 480.1,230.8 479.1,230.0 478.0,228.8 477.0,227.9 475.9,226.9 474.9,226.0 473.8,225.1 472.7,223.9 471.7,223.0 470.6,222.0 469.6,221.0 468.5,220.0 467.4,219.0 466.4,217.9 465.3,217.2 464.3,216.3 463.2,215.3 462.2,213.9 461.1,213.1 460.0,212.0 459.0,211.4 457.9,210.3 456.9,209.3 455.8,208.4 454.8,207.5 453.7,206.6 452.6,205.5 451.6,204.5 450.5,203.1 449.5,202.6 448.4,201.7 447.3,201.1 446.3,200.4 445.2,199.3 444.2,198.4 443.1,197.2 442.1,196.5 441.0,195.5 439.9,194.7 438.9,194.0 437.8,193.3 436.8,192.5 435.7,191.5 434.7,190.7 433.6,190.1 432.5,189.4 431.5,188.7 430.4,188.2 429.4,187.1 428.3,186.6 427.2,186.0 426.2,185.4 425.1,184.5 424.1,183.8 423.0,183.5 422.0,182.5 420.9,182.0 419.8,181.5 418.8,181.0 417.7,180.4 416.7,179.8 415.6,179.3 414.5,178.7 413.5,178.3 412.4,177.7 411.4,177.4 410.3,176.6 409.3,176.1 408.2,175.7 407.1,175.3 406.1,174.8 405.0,174.3 404.0,173.9 402.9,173.6 401.9,173.0 400.8,172.3 399.7,172.1 398.7,171.2 397.6,171.2 396.6,170.8 395.5,170.4 394.4,170.0 393.4,169.4 392.3,169.0 391.3,168.5 390.2,168.1 389.2,167.8 388.1,167.1 387.0,166.8 386.0,166.1 384.9,165.8 383.9,165.4 382.8,164.5 381.8,164.1 380.7,163.6 379.6,162.8 378.6,162.2 377.5,161.7 376.5,161.0 375.4,160.4 374.3,159.6 373.3,159.4 372.2,158.7 371.2,158.1 370.1,157.4 369.1,156.7 368.0,156.2 366.9,155.6 365.9,155.0 364.8,154.4 363.8,154.0 362.7,153.2 361.7,152.7 360.6,151.9 359.5,151.4 358.5,150.9 357.4,150.2 356.4,149.6 355.3,149.3 354.2,148.7 353.2,148.1 352.1,147.8 351.1,147.2 350.0,146.9 349.0,146.3 347.9,145.4 346.8,144.8 345.8,144.4 344.7,144.0 343.7,143.6 342.6,143.0 341.6,142.6 340.5,142.4 339.4,141.5 338.4,141.6 337.3,141.0 336.3,140.6 335.2,140.1 334.1,140.0 333.1,139.6 332.0,138.7 331.0,138.8 329.9,138.1 328.9,137.6 327.8,137.5 326.7,137.6 325.7,137.1 324.6,136.3 323.6,135.9 322.5,135.5 321.5,135.9 320.4,135.0 319.3,134.7 318.3,134.6 317.2,134.3 316.2,133.7 315.1,133.8 314.0,133.4 313.0,133.7 311.9,133.1 310.9,132.8 309.8,132.8 308.8,132.4 307.7,132.8 306.6,132.7 305.6,132.9 304.5,132.6 303.5,131.7 302.4,132.3 301.3,132.2 300.3,132.1 299.2,132.3 298.2,132.1 297.1,132.0 296.1,132.3 295.0,132.4 293.9,132.0 292.9,133.1 291.8,132.7 290.8,133.0 289.7,133.3 288.7,133.5 287.6,134.1 286.5,134.7 285.5,134.6 284.4,135.9 283.4,135.8 282.3,135.8 281.2,136.3 280.2,136.9 279.1,137.4 278.1,138.3 277.0,138.4 276.0,138.9 274.9,139.3 273.8,140.3 272.8,140.4 271.7,140.6 270.7,141.2 269.6,141.4 268.6,142.1 267.5,141.9 266.4,142.3 265.4,142.6 264.3,143.3 263.3,143.9 262.2,144.5 261.1,144.5 260.1,144.6 259.0,145.2 258.0,145.3 256.9,146.0 255.9,146.4 254.8,146.8 253.7,147.1 252.7,147.6 251.6,148.2 250.6,148.8 249.5,149.5 248.5,150.3 247.4,150.3 246.3,151.4 245.3,151.8 244.2,152.6 243.2,153.1 242.1,154.0 241.0,155.0 240.0,155.8 238.9,157.0 237.9,157.3 236.8,159.3 235.8,159.8 234.7,160.9 233.6,161.8 232.6,163.2 231.5,163.8 230.5,164.9 229.4,166.0 228.4,167.0 227.3,167.5 226.2,169.4 225.2,170.0 224.1,171.0 223.1,171.9 222.0,172.9 220.9,174.5 219.9,175.7 218.8,176.5 217.8,177.2 216.7,179.0 215.7,179.4 214.6,181.1 213.5,182.1 212.5,183.2 211.4,184.2 210.4,185.5 209.3,186.6 208.2,188.5 207.2,189.4 206.1,190.2 205.1,191.9 204.0,192.7 203.0,194.8 201.9,196.3 200.8,197.5 199.8,199.1 198.7,200.8 197.7,201.9 196.6,203.8 195.6,205.3 194.5,207.2 193.4,208.7 192.4,210.5 191.3,212.2 190.3,213.7 189.2,215.4 188.1,217.3 187.1,219.3 186.0,221.1 185.0,222.5 183.9,224.8 182.9,226.3 181.8,228.3 180.7,230.2 179.7,232.1 178.6,234.1 177.6,236.2 176.5,237.9 175.5,240.2 174.4,242.0 173.3,243.8 172.3,245.8 171.2,248.2 170.2,249.8 169.1,251.8 168.0,253.5 167.0,255.8 165.9,258.4 164.9,259.8 163.8,262.2 162.8,264.1 161.7,266.6 160.6,268.4 159.6,270.7 158.5,272.5 157.5,274.5 156.4,277.1 155.4,279.1 154.3,280.9 153.2,283.2 152.2,285.5 151.1,287.8 150.1,289.5 149.0,292.2 147.9,293.8 146.9,296.1 145.8,298.3 144.8,300.6 143.7,302.9 142.7,304.7 141.6,307.3 140.5,309.2 139.5,311.6 138.4,313.8 137.4,316.1 136.3,318.2 135.3,320.9 134.2,322.9 133.1,324.9 132.1,326.9 131.0,329.3 130.0,331.3 128.9,333.9 127.8,335.6 126.8,337.8 125.7,339.6 124.7,341.4 123.6,343.3 122.6,345.0 121.5,346.9 120.4,348.0 119.4,349.4 118.3,351.0 117.3,352.0 116.2,353.2 115.1,354.5 114.1,355.2 113.0,356.3 112.0,357.4 110.9,357.4"/><path d="M116.7,351.5l0.3,3.0M122.7,343.3l0.3,5.4M128.6,332.9l0.3,2.6M131.2,327.8l0.3,6.0M134.8,320.5l0.3,3.6M139.8,309.9l0.3,3.4M146.5,296.0l0.3,3.4M151.3,286.2l0.3,6.4M154.9,278.8l0.3,2.4M161.4,265.8l0.3,4.2M165.0,258.7l0.3,3.0M170.6,247.9l0.3,3.3M177.3,235.3l0.3,3.2M184.7,222.1l0.3,2.3M190.2,212.7l0.3,4.6M195.0,205.1l0.3,3.5M201.5,195.5l0.3,5.9M208.2,186.7l0.3,3.1M215.1,178.7l0.3,3.4" stroke="#8c640a" stroke-width="1" fill="none"/><polygon fill="#8228be" points="110.9,362.6 112.0,362.9 113.0,363.1 114.1,362.5 115.1,362.5 116.2,362.2 117.3,361.2 118.3,361.0 119.4,360.0 120.4,359.7 121.5,358.6 122.6,357.5 123.6,356.1 124.7,355.3 125.7,353.9 126.8,352.9 127.8,351.3 128.9,349.7 130.0,348.6 131.0,347.0 132.1,345.1 133.1,343.7 134.2,341.7 135.3,339.9 136.3,338.1 137.4,336.1 138.4,334.2 139.5,332.4 140.5,330.7 141.6,328.7 142.7,326.3 143.7,324.7 144.8,322.3 145.8,320.3 146.9,318.3 147.9,316.1 149.0,314.4 150.1,311.9 151.1,309.6 152.2,308.0 153.2,305.6 154.3,303.6 155.4,301.0 156.4,299.7 157.5,297.6 158.5,295.6 159.6,293.5 160.6,291.6 161.7,289.3 162.8,287.4 163.8,285.1 164.9,283.1 165.9,281.3 167.0,279.2 168.0,276.8 169.1,275.1 170.2,272.9 171.2,270.8 172.3,268.9 173.3,266.8 174.4,264.5 175.5,262.6 176.5,261.0 177.6,258.4 178.6,256.7 179.7,254.8 180.7,252.8 181.8,250.5 182.9,248.7 183.9,246.8 185.0,245.0 186.0,242.8 187.1,240.8 188.1,239.3 189.2,237.4 190.3,235.4 191.3,233.4 192.4,231.8 193.4,230.0 194.5,228.3 195.6,226.3 196.6,224.8 197.7,223.1 198.7,221.3 199.8,219.8 200.8,218.2 201.9,216.6 203.0,215.1 204.0,213.4 205.1,212.0 206.1,210.6 207.2,209.1 208.2,207.8 209.3,206.0 210.4,204.6 211.4,203.4 212.5,202.0 213.5,200.9 214.6,199.3 215.7,197.8 216.7,196.7 217.8,195.1 218.8,193.7 219.9,193.0 220.9,191.4 222.0,190.2 223.1,188.8 224.1,187.8 225.2,186.2 226.2,185.2 227.3,183.4 228.4,182.0 229.4,181.5 230.5,180.3 231.5,178.8 232.6,177.5 233.6,176.2 234.7,174.7 235.8,174.3 236.8,172.8 237.9,171.5 238.9,170.3 240.0,169.3 241.0,168.1 242.1,167.0 243.2,165.5 244.2,164.8 245.3,164.1 246.3,162.5 247.4,161.5 248.5,160.8 249.5,159.8 250.6,158.8 251.6,157.3 252.7,156.9 253.7,155.6 254.8,154.8 255.9,154.2 256.9,153.2 258.0,152.7 259.0,152.4 260.1,151.1 261.1,150.3 262.2,149.2 263.3,148.5 264.3,147.7 265.4,147.2 266.4,146.4 267.5,145.8 268.6,145.3 269.6,144.5 270.7,143.7 271.7,143.1 272.8,143.0 273.8,142.3 274.9,141.9 276.0,141.4 277.0,140.5 278.1,140.2 279.1,139.3 280.2,139.7 281.2,139.0 282.3,138.3 283.4,137.7 284.4,137.8 285.5,137.0 286.5,137.0 287.6,137.1 288.7,136.8 289.7,136.5 290.8,136.7 291.8,136.1 292.9,136.4 293.9,136.2 295.0,136.1 296.1,136.5 297.1,136.2 298.2,136.9 299.2,136.5 300.3,137.2 301.3,136.7 302.4,137.2 303.5,137.0 304.5,137.2 305.6,137.8 306.6,138.1 307.7,137.9 308.8,138.6 309.8,138.5 310.9,138.8 311.9,139.0 313.0,139.2 314.0,139.0 315.1,139.6 316.2,139.5 317.2,139.4 318.3,139.3 319.3,139.2 320.4,139.3 321.5,139.7 322.5,139.6 323.6,139.4 324.6,139.6 325.7,140.1 326.7,139.7 327.8,139.7 328.9,140.3 329.9,140.2 331.0,140.2 332.0,140.2 333.1,140.2 334.1,140.5 335.2,140.9 336.3,141.2 337.3,141.7 338.4,142.0 339.4,142.3 340.5,142.7 341.6,142.7 342.6,142.9 343.7,143.6 344.7,143.9 345.8,144.4 346.8,144.9 347.9,145.2 349.0,145.6 350.0,146.3 351.1,146.8 352.1,147.1 353.2,147.9 354.2,148.2 355.3,148.5 356.4,149.2 357.4,150.2 358.5,150.1 359.5,151.1 360.6,151.7 361.7,152.2 362.7,152.2 363.8,153.5 364.8,153.6 365.9,154.1 366.9,154.6 368.0,155.4 369.1,155.9 370.1,156.4 371.2,157.3 372.2,157.5 373.3,158.0 374.3,159.0 375.4,159.6 376.5,160.3 377.5,160.3 378.6,161.4 379.6,161.9 380.7,162.8 381.8,162.6 382.8,163.6 383.9,164.0 384.9,164.3 386.0,165.0 387.0,166.0 388.1,166.2 389.2,166.7 390.2,167.6 391.3,168.1 392.3,168.7 393.4,168.8 394.4,169.5 395.5,170.2 396.6,170.4 397.6,170.9 398.7,171.8 399.7,172.5 400.8,172.4 401.9,172.7 402.9,173.4 404.0,174.1 405.0,174.8 406.1,175.5 407.1,176.0 408.2,176.4 409.3,177.2 410.3,177.6 411.4,178.3 412.4,178.8 413.5,180.1 414.5,180.4 415.6,180.7 416.7,181.3 417.7,182.1 418.8,182.5 419.8,183.3 420.9,184.0 422.0,185.0 423.0,185.4 424.1,186.0 425.1,186.6 426.2,187.4 427.2,188.3 428.3,189.0 429.4,190.0 430.4,190.4 431.5,191.5 432.5,192.0 433.6,192.8 434.7,193.1 435.7,194.0 436.8,195.2 437.8,196.1 438.9,196.7 439.9,197.6 441.0,198.1 442.1,198.9 443.1,199.7 444.2,200.8 445.2,201.5 446.3,202.2 447.3,203.0 448.4,204.0 449.5,204.8 450.5,205.5 451.6,206.8 452.6,207.4 453.7,208.2 454.8,209.3 455.8,210.1 456.9,210.8 457.9,211.8 459.0,212.3 460.0,213.3 461.1,213.9 462.2,215.4 463.2,215.7 464.3,217.1 465.3,217.7 466.4,218.6 467.4,219.7 468.5,220.7 469.6,221.7 470.6,222.8 471.7,223.4 472.7,224.5 473.8,225.1 474.9,226.3 475.9,227.1 477.0,227.9 478.0,228.9 479.1,229.9 480.1,230.9 481.2,231.8 482.3,232.6 483.3,233.5 484.4,234.7 485.4,235.2 486.5,236.4 487.5,237.7 488.6,237.9 489.7,239.2 490.7,240.4 491.8,240.9 492.8,242.6 493.9,242.7 495.0,244.3 496.0,245.3 497.1,246.1 498.1,246.9 499.2,247.9 500.2,248.7 501.3,249.9 502.4,250.5 503.4,251.6 504.5,252.8 505.5,253.4 506.6,254.5 507.6,255.5 508.7,256.2 509.8,257.5 510.8,258.3 511.9,259.0 512.9,260.1 514.0,261.0 515.1,261.9 516.1,263.0 517.2,263.8 518.2,265.0 519.3,265.6 520.3,266.8 521.4,267.6 522.5,268.6 523.5,269.3 524.6,270.2 525.6,271.1 526.7,272.2 527.8,273.2 528.8,274.2 529.9,275.0 530.9,275.8 532.0,276.6 533.0,277.5 534.1,278.4 535.2,279.6 536.2,280.3 537.3,280.8 538.3,281.7 539.4,283.0 540.4,283.6 541.5,284.4 542.6,285.5 543.6,286.0 544.7,286.9 545.7,287.7 546.8,288.1 547.9,289.6 548.9,289.9 550.0,290.9 551.0,291.7 552.1,292.8 553.1,293.4 554.2,294.2 555.3,294.6 556.3,295.7 557.4,296.2 558.4,297.3 559.5,298.1 560.5,298.7 561.6,299.9 562.7,300.3 563.7,301.1 564.8,301.7 565.8,302.3 566.9,303.3 568.0,304.0 569.0,304.2 570.1,305.3 571.1,305.9 572.2,306.7 573.2,307.2 574.3,307.5 575.4,308.1 576.4,309.4 576.4,312.6 575.4,311.9 574.3,311.6 573.2,310.6 572.2,309.8 571.1,309.2 570.1,308.5 569.0,308.1 568.0,307.1 566.9,306.6 565.8,305.7 564.8,304.7 563.7,304.2 562.7,303.6 561.6,302.6 560.5,302.5 559.5,301.0 558.4,300.4 557.4,299.5 556.3,299.4 555.3,298.0 554.2,297.7 553.1,296.4 552.1,296.2 551.0,295.3 550.0,294.5 548.9,293.6 547.9,293.0 546.8,291.8 545.7,291.5 544.7,290.4 543.6,289.8 542.6,288.8 541.5,288.0 540.4,286.9 539.4,286.4 538.3,285.2 537.3,284.6 536.2,283.7 535.2,282.9 534.1,282.1 533.0,281.3 532.0,280.2 530.9,279.5 529.9,278.5 528.8,278.0 527.8,277.0 526.7,275.8 525.6,275.0 524.6,274.1 523.5,273.3 522.5,272.3 521.4,271.3 520.3,270.6 519.3,269.7 518.2,268.9 517.2,268.0 516.1,267.0 515.1,266.0 514.0,265.2 512.9,264.0 511.9,263.3 510.8,262.5 509.8,261.4 508.7,260.4 507.6,260.0 506.6,258.8 505.5,257.8 504.5,256.7 503.4,256.1 502.4,255.0 501.3,253.9 500.2,253.5 499.2,252.1 498.1,251.3 497.1,250.5 496.0,249.4 495.0,248.5 493.9,247.9 492.8,246.3 491.8,245.8 490.7,244.8 489.7,243.7 488.6,242.8 487.5,242.0 486.5,240.9 485.4,240.0 484.4,239.0 483.3,238.3 482.3,237.4 481.2,236.5 480.1,235.7 479.1,234.6 478.0,233.7 477.0,232.8 475.9,231.8 474.9,230.9 473.8,230.2 472.7,229.1 471.7,228.2 470.6,227.3 469.6,226.4 468.5,225.5 467.4,224.3 466.4,224.1 465.3,222.9 464.3,221.9 463.2,220.9 462.2,220.1 461.1,219.1 460.0,218.2 459.0,217.8 457.9,216.6 456.9,215.6 455.8,214.9 454.8,214.1 453.7,213.0 452.6,212.2 451.6,211.1 450.5,210.5 449.5,209.9 448.4,209.0 447.3,208.4 446.3,207.1 445.2,206.4 444.2,205.4 443.1,204.9 442.1,204.3 441.0,203.4 439.9,202.2 438.9,201.5 437.8,200.6 436.8,199.7 435.7,199.1 434.7,198.7 433.6,197.7 432.5,197.2 431.5,196.1 430.4,195.6 429.4,194.4 428.3,194.3 427.2,193.2 426.2,192.6 425.1,191.7 424.1,190.8 423.0,190.5 422.0,190.0 420.9,189.3 419.8,188.3 418.8,187.7 417.7,187.4 416.7,186.4 415.6,185.8 414.5,185.2 413.5,184.6 412.4,183.7 411.4,183.2 410.3,182.7 409.3,182.4 408.2,181.6 407.1,181.2 406.1,180.9 405.0,180.0 404.0,179.8 402.9,179.0 401.9,178.8 400.8,178.3 399.7,177.4 398.7,176.8 397.6,176.4 396.6,176.2 395.5,175.6 394.4,175.3 393.4,174.7 392.3,173.8 391.3,173.7 390.2,173.1 389.2,172.7 388.1,172.1 387.0,171.9 386.0,171.6 384.9,171.1 383.9,170.4 382.8,169.6 381.8,169.1 380.7,168.7 379.6,168.6 378.6,167.6 377.5,167.3 376.5,166.9 375.4,166.2 374.3,165.2 373.3,165.2 372.2,164.7 371.2,163.9 370.1,163.5 369.1,162.8 368.0,162.5 366.9,162.1 365.9,161.9 364.8,161.1 363.8,160.6 362.7,160.2 361.7,159.8 360.6,159.1 359.5,158.7 358.5,158.4 357.4,157.6 356.4,157.3 355.3,156.8 354.2,156.4 353.2,156.1 352.1,155.2 351.1,155.6 350.0,155.0 349.0,154.3 347.9,153.8 346.8,153.7 345.8,152.7 344.7,152.6 343.7,152.3 342.6,152.0 341.6,152.3 340.5,151.5 339.4,150.9 338.4,150.9 337.3,150.6 336.3,150.1 335.2,149.8 334.1,149.6 333.1,149.2 332.0,149.0 331.0,148.3 329.9,148.1 328.9,147.3 327.8,147.1 326.7,146.4 325.7,146.2 324.6,146.0 323.6,145.7 322.5,145.6 321.5,144.9 320.4,144.6 319.3,144.1 318.3,143.9 317.2,143.7 316.2,143.5 315.1,143.6 314.0,143.1 313.0,143.2 311.9,143.1 310.9,142.8 309.8,143.1 308.8,143.1 307.7,143.1 306.6,143.6 305.6,143.8 304.5,143.9 303.5,143.9 302.4,144.5 301.3,144.4 300.3,144.7 299.2,144.5 298.2,144.6 297.1,145.1 296.1,145.5 295.0,145.7 293.9,146.1 292.9,146.2 291.8,146.3 290.8,146.6 289.7,146.9 288.7,147.3 287.6,147.5 286.5,147.5 285.5,147.9 284.4,148.0 283.4,148.0 282.3,148.2 281.2,148.7 280.2,149.2 279.1,149.2 278.1,149.4 277.0,150.4 276.0,150.2 274.9,150.8 273.8,150.5 272.8,151.1 271.7,151.6 270.7,152.0 269.6,152.7 268.6,153.1 267.5,153.3 266.4,153.8 265.4,154.5 264.3,155.3 263.3,156.4 262.2,156.4 261.1,157.2 260.1,157.9 259.0,158.7 258.0,159.3 256.9,160.2 255.9,161.1 254.8,162.0 253.7,162.1 252.7,163.0 251.6,164.1 250.6,165.2 249.5,166.0 248.5,166.8 247.4,167.6 246.3,168.6 245.3,169.0 244.2,170.2 243.2,171.2 242.1,171.9 241.0,172.9 240.0,173.4 238.9,174.9 237.9,175.7 236.8,177.5 235.8,177.3 234.7,179.4 233.6,179.9 232.6,180.8 231.5,181.1 230.5,182.8 229.4,184.2 228.4,185.4 227.3,187.0 226.2,187.3 225.2,188.9 224.1,189.7 223.1,191.0 222.0,192.1 220.9,193.2 219.9,194.3 218.8,195.6 217.8,196.9 216.7,198.3 215.7,199.4 214.6,200.7 213.5,202.3 212.5,203.7 211.4,204.9 210.4,206.3 209.3,207.7 208.2,209.3 207.2,210.7 206.1,212.1 205.1,213.6 204.0,215.2 203.0,216.9 201.9,218.2 200.8,220.1 199.8,221.2 198.7,222.9 197.7,224.8 196.6,226.5 195.6,227.8 194.5,230.2 193.4,231.7 192.4,233.4 191.3,235.3 190.3,237.2 189.2,239.0 188.1,241.0 187.1,242.7 186.0,244.9 185.0,246.5 183.9,248.6 182.9,250.9 181.8,252.4 180.7,254.6 179.7,256.6 178.6,258.5 177.6,260.5 176.5,262.7 175.5,264.6 174.4,266.9 173.3,268.8 172.3,271.0 171.2,272.9 170.2,275.0 169.1,276.8 168.0,279.4 167.0,281.2 165.9,283.1 164.9,285.2 163.8,287.6 162.8,289.4 161.7,290.9 160.6,293.6 159.6,295.3 158.5,297.4 157.5,299.5 156.4,301.5 155.4,303.4 154.3,305.9 153.2,307.5 152.2,309.6 151.1,312.1 150.1,314.0 149.0,316.3 147.9,318.2 146.9,320.4 145.8,322.5 144.8,324.4 143.7,326.4 142.7,328.4 141.6,330.5 140.5,332.8 139.5,334.4 138.4,336.7 137.4,338.7 136.3,340.5 135.3,341.9 134.2,343.9 133.1,346.3 132.1,347.5 131.0,348.9 130.0,350.8 128.9,352.4 127.8,353.8 126.8,355.0 125.7,356.5 124.7,357.8 123.6,358.6 122.6,360.4 121.5,361.3 120.4,362.1 119.4,363.0 118.3,363.8 117.3,364.0 116.2,364.3 115.1,364.9 114.1,365.6 113.0,366.0 112.0,365.6 110.9,366.0"/><path d="M113.9,364.2l0.3,2.7M118.1,362.5l0.3,3.0M120.7,360.6l0.3,2.7M125.3,355.9l0.3,3.8M132.2,346.1l0.3,5.7M138.9,334.6l0.3,6.5M141.9,328.8l0.3,2.5M145.5,321.9l0.3,6.4M148.7,315.6l0.3,2.3M152.8,307.5l0.3,6.5M155.8,301.7l0.3,2.5M163.0,287.8l0.3,2.4M168.0,278.1l0.3,4.1M170.7,272.9l0.3,2.9M174.6,265.5l0.3,6.2M177.7,259.4l0.3,2.6M182.1,251.1l0.3,4.6M186.2,243.5l0.3,5.6M190.1,236.5l0.3,4.4M194.0,229.9l0.3,2.0M198.1,223.2l0.3,3.4M204.7,213.3l0.3,3.9" stroke="#8228be" stroke-width="1" fill="none"/><polygon fill="#1e7846" points="110.9,371.6 112.0,370.5 113.0,370.8 114.1,369.8 115.1,369.6 116.2,369.2 117.3,368.3 118.3,367.9 119.4,366.9 120.4,366.7 121.5,365.9 122.6,366.0 123.6,365.3 124.7,364.9 125.7,364.2 126.8,363.2 127.8,362.8 128.9,362.0 130.0,361.5 131.0,360.7 132.1,359.6 133.1,359.1 134.2,358.3 135.3,357.3 136.3,356.7 137.4,356.0 138.4,354.6 139.5,353.6 140.5,352.2 141.6,351.6 142.7,350.4 143.7,349.0 144.8,348.3 145.8,347.2 146.9,345.7 147.9,344.5 149.0,343.0 150.1,342.0 151.1,340.1 152.2,338.9 153.2,337.8 154.3,335.9 155.4,334.4 156.4,332.6 157.5,330.7 158.5,329.2 159.6,327.5 160.6,325.4 161.7,323.8 162.8,322.1 163.8,320.2 164.9,317.8 165.9,316.0 167.0,313.9 168.0,312.3 169.1,310.2 170.2,308.2 171.2,305.9 172.3,303.8 173.3,301.9 174.4,299.9 175.5,297.6 176.5,295.7 177.6,293.7 178.6,291.5 179.7,289.3 180.7,287.0 181.8,285.2 182.9,283.2 183.9,281.1 185.0,279.0 186.0,277.0 187.1,275.1 188.1,273.0 189.2,271.1 190.3,269.0 191.3,267.1 192.4,265.3 193.4,263.2 194.5,261.3 195.6,259.6 196.6,258.0 197.7,256.0 198.7,254.4 199.8,252.4 200.8,250.6 201.9,248.8 203.0,247.2 204.0,245.7 205.1,243.9 206.1,242.3 207.2,240.7 208.2,239.0 209.3,237.4 210.4,235.8 211.4,234.4 212.5,232.8 213.5,231.3 214.6,229.8 215.7,228.2 216.7,226.8 217.8,225.3 218.8,224.2 219.9,222.3 220.9,221.2 222.0,220.3 223.1,218.5 224.1,217.1 225.2,216.0 226.2,214.9 227.3,213.4 228.4,212.3 229.4,210.9 230.5,209.6 231.5,209.1 232.6,207.3 233.6,206.0 234.7,204.8 235.8,203.8 236.8,202.6 237.9,201.5 238.9,200.2 240.0,198.9 241.0,198.0 242.1,196.8 243.2,195.6 244.2,194.4 245.3,193.4 246.3,192.2 247.4,191.2 248.5,189.9 249.5,189.0 250.6,188.0 251.6,186.7 252.7,185.7 253.7,184.6 254.8,183.9 255.9,182.2 256.9,181.6 258.0,180.4 259.0,179.6 260.1,178.9 261.1,177.7 262.2,176.9 263.3,175.8 264.3,175.5 265.4,174.4 266.4,173.6 267.5,172.2 268.6,171.4 269.6,171.1 270.7,170.0 271.7,169.3 272.8,168.7 273.8,167.6 274.9,167.4 276.0,166.6 277.0,166.0 278.1,165.2 279.1,164.9 280.2,164.0 281.2,163.9 282.3,163.5 283.4,163.0 284.4,162.4 285.5,162.0 286.5,160.9 287.6,161.4 288.7,160.8 289.7,160.5 290.8,160.2 291.8,159.6 292.9,159.6 293.9,159.7 295.0,159.6 296.1,159.0 297.1,158.7 298.2,159.1 299.2,158.5 300.3,159.0 301.3,158.5 302.4,158.2 303.5,158.5 304.5,158.6 305.6,157.9 306.6,158.4 307.7,158.1 308.8,158.4 309.8,158.0 310.9,157.8 311.9,158.2 313.0,158.2 314.0,158.5 315.1,158.4 316.2,158.2 317.2,158.1 318.3,158.1 319.3,158.1 320.4,158.0 321.5,158.1 322.5,157.7 323.6,158.2 324.6,158.2 325.7,158.7 326.7,158.3 327.8,158.1 328.9,158.3 329.9,157.9 331.0,158.0 332.0,157.7 333.1,158.5 334.1,158.3 335.2,157.9 336.3,158.2 337.3,158.4 338.4,158.3 339.4,158.3 340.5,158.1 341.6,158.2 342.6,158.4 343.7,158.7 344.7,158.4 345.8,158.4 346.8,159.0 347.9,158.6 349.0,159.2 350.0,159.2 351.1,159.5 352.1,159.8 353.2,159.8 354.2,159.9 355.3,159.7 356.4,160.0 357.4,160.5 358.5,160.9 359.5,161.1 360.6,161.6 361.7,161.3 362.7,161.6 363.8,162.0 364.8,162.1 365.9,162.3 366.9,162.4 368.0,163.2 369.1,163.0 370.1,163.7 371.2,163.6 372.2,164.5 373.3,164.3 374.3,165.1 375.4,164.9 376.5,165.6 377.5,166.4 378.6,166.3 379.6,166.9 380.7,167.2 381.8,167.2 382.8,168.3 383.9,168.7 384.9,168.8 386.0,169.7 387.0,169.8 388.1,170.2 389.2,171.0 390.2,171.3 391.3,172.5 392.3,172.1 393.4,173.1 394.4,173.7 395.5,173.6 396.6,174.2 397.6,175.3 398.7,175.6 399.7,176.4 400.8,177.2 401.9,177.4 402.9,177.9 404.0,178.1 405.0,179.4 406.1,179.8 407.1,180.7 408.2,181.4 409.3,181.6 410.3,183.1 411.4,183.6 412.4,184.2 413.5,184.4 414.5,185.3 415.6,185.9 416.7,186.7 417.7,187.2 418.8,188.3 419.8,188.9 420.9,189.7 422.0,190.2 423.0,191.3 424.1,191.8 425.1,191.8 426.2,193.0 427.2,193.9 428.3,194.8 429.4,195.2 430.4,196.0 431.5,196.6 432.5,197.6 433.6,198.1 434.7,198.7 435.7,199.4 436.8,200.5 437.8,200.9 438.9,201.4 439.9,202.7 441.0,203.2 442.1,204.2 443.1,205.0 444.2,206.0 445.2,206.7 446.3,207.2 447.3,208.1 448.4,208.7 449.5,210.2 450.5,210.8 451.6,211.9 452.6,212.4 453.7,212.9 454.8,214.6 455.8,215.2 456.9,216.1 457.9,217.0 459.0,218.1 460.0,219.0 461.1,219.4 462.2,221.0 463.2,221.6 464.3,222.5 465.3,224.0 466.4,224.8 467.4,225.4 468.5,226.0 469.6,227.4 470.6,228.5 471.7,229.3 472.7,229.9 473.8,231.0 474.9,231.8 475.9,233.1 477.0,234.2 478.0,235.2 479.1,235.7 480.1,236.9 481.2,237.9 482.3,238.6 483.3,239.7 484.4,241.1 485.4,241.6 486.5,242.7 487.5,243.3 488.6,244.4 489.7,244.9 490.7,246.2 491.8,247.4 492.8,248.5 493.9,249.3 495.0,250.1 496.0,250.9 497.1,251.7 498.1,252.7 499.2,253.8 500.2,254.4 501.3,255.6 502.4,256.2 503.4,256.9 504.5,258.0 505.5,258.8 506.6,259.7 507.6,261.1 508.7,261.8 509.8,262.7 510.8,263.8 511.9,264.7 512.9,265.3 514.0,266.5 515.1,267.2 516.1,268.0 517.2,269.0 518.2,269.5 519.3,270.5 520.3,271.5 521.4,272.5 522.5,273.2 523.5,274.1 524.6,275.2 525.6,276.1 526.7,276.9 527.8,277.8 528.8,278.4 529.9,279.2 530.9,280.2 532.0,280.9 533.0,281.7 534.1,282.9 535.2,283.4 536.2,284.0 537.3,285.3 538.3,286.5 539.4,286.8 540.4,287.9 541.5,288.3 542.6,289.1 543.6,289.8 544.7,290.8 545.7,292.1 546.8,292.1 547.9,293.6 548.9,293.7 550.0,294.7 551.0,295.7 552.1,296.5 553.1,297.1 554.2,297.4 555.3,298.7 556.3,299.1 557.4,300.7 558.4,300.8 559.5,301.6 560.5,302.0 561.6,302.9 562.7,303.5 563.7,304.8 564.8,305.2 565.8,306.1 566.9,306.5 568.0,307.3 569.0,308.4 570.1,308.6 571.1,309.1 572.2,310.3 573.2,310.6 574.3,311.4 575.4,312.4 576.4,312.7 576.4,316.4 575.4,315.8 574.3,315.3 573.2,314.6 572.2,313.8 571.1,313.3 570.1,312.4 569.0,311.6 568.0,311.1 566.9,310.4 565.8,310.0 564.8,309.3 563.7,308.0 562.7,308.0 561.6,306.7 560.5,305.9 559.5,305.2 558.4,304.6 557.4,304.1 556.3,303.2 555.3,302.7 554.2,302.0 553.1,300.9 552.1,300.0 551.0,299.4 550.0,298.5 548.9,298.2 547.9,297.7 546.8,296.7 545.7,295.8 544.7,295.1 543.6,294.1 542.6,293.6 541.5,292.7 540.4,292.1 539.4,290.9 538.3,290.4 537.3,289.7 536.2,289.2 535.2,288.4 534.1,287.1 533.0,286.2 532.0,285.6 530.9,284.6 529.9,283.8 528.8,283.2 527.8,282.2 526.7,281.4 525.6,280.3 524.6,279.6 523.5,279.0 522.5,278.2 521.4,277.3 520.3,276.3 519.3,275.6 518.2,274.6 517.2,273.8 516.1,273.1 515.1,272.2 514.0,271.2 512.9,270.5 511.9,269.4 510.8,268.6 509.8,267.8 508.7,266.8 507.6,265.9 506.6,264.8 505.5,264.2 504.5,263.1 503.4,262.6 502.4,261.5 501.3,260.8 500.2,259.6 499.2,258.7 498.1,257.9 497.1,256.9 496.0,256.3 495.0,255.2 493.9,254.4 492.8,253.2 491.8,252.6 490.7,251.6 489.7,250.8 488.6,250.1 487.5,249.1 486.5,248.1 485.4,246.9 484.4,246.5 483.3,245.7 482.3,244.5 481.2,243.6 480.1,242.8 479.1,241.9 478.0,240.6 477.0,239.8 475.9,238.9 474.9,238.5 473.8,237.2 472.7,236.2 471.7,235.8 470.6,234.6 469.6,233.4 468.5,232.7 467.4,231.6 466.4,230.5 465.3,229.8 464.3,229.2 463.2,228.0 462.2,227.3 461.1,226.1 460.0,225.2 459.0,224.2 457.9,223.9 456.9,222.5 455.8,221.6 454.8,220.8 453.7,219.8 452.6,219.5 451.6,218.3 450.5,217.8 449.5,217.0 448.4,215.6 447.3,215.4 446.3,214.6 445.2,213.2 444.2,212.5 443.1,212.0 442.1,210.7 441.0,210.5 439.9,209.9 438.9,209.6 437.8,208.5 436.8,207.8 435.7,207.2 434.7,206.5 433.6,206.3 432.5,205.2 431.5,204.1 430.4,204.0 429.4,203.4 428.3,202.6 427.2,202.2 426.2,201.4 425.1,200.7 424.1,200.2 423.0,199.7 422.0,198.6 420.9,197.6 419.8,197.1 418.8,196.4 417.7,196.4 416.7,195.6 415.6,195.2 414.5,193.9 413.5,193.6 412.4,193.2 411.4,192.6 410.3,191.8 409.3,191.4 408.2,190.5 407.1,189.7 406.1,189.5 405.0,188.7 404.0,188.3 402.9,187.3 401.9,187.0 400.8,186.3 399.7,186.4 398.7,185.5 397.6,184.9 396.6,184.3 395.5,184.1 394.4,183.2 393.4,183.5 392.3,182.5 391.3,182.1 390.2,181.9 389.2,181.1 388.1,180.2 387.0,180.0 386.0,180.0 384.9,179.5 383.9,178.9 382.8,178.5 381.8,177.7 380.7,177.8 379.6,177.3 378.6,176.7 377.5,176.1 376.5,176.0 375.4,175.8 374.3,175.0 373.3,174.2 372.2,174.8 371.2,173.7 370.1,173.3 369.1,173.2 368.0,173.1 366.9,172.6 365.9,172.3 364.8,172.0 363.8,171.6 362.7,171.1 361.7,170.7 360.6,170.4 359.5,170.9 358.5,170.2 357.4,170.3 356.4,169.9 355.3,169.2 354.2,169.3 353.2,169.0 352.1,169.1 351.1,168.8 350.0,168.3 349.0,168.2 347.9,167.8 346.8,167.9 345.8,167.2 344.7,167.2 343.7,166.5 342.6,167.1 341.6,166.5 340.5,166.2 339.4,165.9 338.4,165.7 337.3,165.7 336.3,164.9 335.2,165.3 334.1,164.9 333.1,165.0 332.0,164.5 331.0,164.3 329.9,164.3 328.9,163.7 327.8,164.0 326.7,163.1 325.7,163.3 324.6,163.4 323.6,163.1 322.5,163.1 321.5,162.7 320.4,162.9 319.3,162.6 318.3,162.7 317.2,162.5 316.2,162.8 315.1,162.9 314.0,162.7 313.0,162.8 311.9,162.8 310.9,162.6 309.8,163.0 308.8,163.1 307.7,163.0 306.6,163.4 305.6,163.7 304.5,163.9 303.5,163.6 302.4,164.0 301.3,163.9 300.3,164.2 299.2,164.2 298.2,164.4 297.1,165.4 296.1,165.4 295.0,165.7 293.9,166.5 292.9,166.4 291.8,166.6 290.8,167.0 289.7,166.9 288.7,167.6 287.6,168.1 286.5,168.6 285.5,169.3 284.4,169.5 283.4,169.4 282.3,170.5 281.2,170.7 280.2,171.1 279.1,171.4 278.1,172.1 277.0,172.9 276.0,173.0 274.9,174.4 273.8,174.9 272.8,175.2 271.7,176.1 270.7,176.4 269.6,177.3 268.6,177.8 267.5,178.6 266.4,179.7 265.4,180.7 264.3,181.2 263.3,181.2 262.2,182.6 261.1,183.3 260.1,184.2 259.0,184.9 258.0,185.6 256.9,186.5 255.9,187.6 254.8,188.3 253.7,189.3 252.7,190.2 251.6,191.2 250.6,192.2 249.5,192.9 248.5,193.7 247.4,194.9 246.3,195.8 245.3,196.7 244.2,198.1 243.2,198.8 242.1,199.8 241.0,200.9 240.0,202.0 238.9,202.9 237.9,204.0 236.8,205.2 235.8,206.3 234.7,207.4 233.6,208.6 232.6,209.5 231.5,210.7 230.5,211.9 229.4,213.1 228.4,214.1 227.3,215.3 226.2,216.5 225.2,217.9 224.1,219.2 223.1,220.6 222.0,221.8 220.9,223.1 219.9,224.4 218.8,225.7 217.8,226.9 216.7,228.3 215.7,229.9 214.6,231.3 213.5,232.8 212.5,234.2 211.4,235.8 210.4,237.2 209.3,238.9 208.2,240.4 207.2,242.2 206.1,243.7 205.1,245.4 204.0,247.0 203.0,248.5 201.9,250.4 200.8,252.0 199.8,253.8 198.7,255.8 197.7,257.3 196.6,259.4 195.6,261.2 194.5,263.0 193.4,264.7 192.4,266.8 191.3,268.5 190.3,270.7 189.2,272.6 188.1,274.7 187.1,276.7 186.0,278.6 185.0,280.4 183.9,282.5 182.9,284.7 181.8,287.0 180.7,288.8 179.7,290.8 178.6,293.4 177.6,295.2 176.5,297.2 175.5,299.5 174.4,301.6 173.3,303.7 172.3,305.8 171.2,307.9 170.2,309.8 169.1,312.0 168.0,313.8 167.0,315.8 165.9,318.0 164.9,320.1 163.8,322.2 162.8,323.8 161.7,325.7 160.6,327.6 159.6,329.7 158.5,331.3 157.5,332.9 156.4,334.5 155.4,336.6 154.3,337.8 153.2,339.3 152.2,341.0 151.1,342.8 150.1,344.3 149.0,345.0 147.9,346.8 146.9,348.4 145.8,349.8 144.8,350.7 143.7,352.0 142.7,353.0 141.6,354.3 140.5,355.3 139.5,356.5 138.4,357.3 137.4,358.1 136.3,359.4 135.3,360.2 134.2,360.9 133.1,362.4 132.1,362.7 131.0,363.0 130.0,364.6 128.9,364.9 127.8,365.8 126.8,366.5 125.7,367.7 124.7,367.3 123.6,368.2 122.6,368.7 121.5,369.9 120.4,369.9 119.4,371.2 118.3,371.5 117.3,371.7 116.2,372.4 115.1,372.8 114.1,373.9 113.0,374.5 112.0,374.3 110.9,375.3"/><path d="M113.6,372.0l0.3,4.6M117.0,370.4l0.3,4.4M123.8,366.8l0.3,6.4M126.5,365.1l0.3,6.8M129.3,363.3l0.3,5.1M133.3,360.4l0.3,5.4M138.8,355.7l0.3,5.0M143.5,350.9l0.3,2.3M147.2,346.6l0.3,2.2M153.9,337.6l0.3,2.6M160.2,327.4l0.3,6.3M163.7,321.1l0.3,2.7M168.5,312.2l0.3,6.3M174.1,301.2l0.3,2.8M178.7,292.2l0.3,2.9M183.3,283.0l0.3,2.8M187.4,275.2l0.3,2.6M194.4,262.3l0.3,4.4M197.3,257.4l0.3,2.7" stroke="#1e7846" stroke-width="1" fill="none"/><polygon fill="#1446a0" points="110.9,380.9 112.0,381.3 113.0,380.6 114.1,379.5 115.1,379.4 116.2,379.3 117.3,379.6 118.3,379.0 119.4,378.4 120.4,376.9 121.5,377.2 122.6,377.1 123.6,376.6 124.7,376.2 125.7,375.5 126.8,376.0 127.8,375.4 128.9,374.3 130.0,373.5 131.0,374.4 132.1,372.8 133.1,373.1 134.2,373.0 135.3,371.3 136.3,371.4 137.4,370.6 138.4,370.5 139.5,369.9 140.5,370.0 141.6,369.0 142.7,368.2 143.7,368.1 144.8,367.0 145.8,366.4 146.9,366.7 147.9,365.0 149.0,364.5 150.1,364.0 151.1,363.0 152.2,361.9 153.2,362.3 154.3,361.0 155.4,360.3 156.4,359.6 157.5,358.7 158.5,357.9 159.6,357.4 160.6,357.3 161.7,355.9 162.8,355.1 163.8,353.6 164.9,353.1 165.9,351.8 167.0,351.4 168.0,350.2 169.1,349.2 170.2,348.1 171.2,347.0 172.3,345.7 173.3,345.0 174.4,343.5 175.5,342.3 176.5,341.3 177.6,340.0 178.6,338.9 179.7,337.8 180.7,336.3 181.8,335.0 182.9,333.6 183.9,332.4 185.0,330.6 186.0,329.5 187.1,327.9 188.1,326.4 189.2,325.1 190.3,323.6 191.3,322.2 192.4,320.8 193.4,318.7 194.5,317.5 195.6,316.2 196.6,314.5 197.7,313.0 198.7,311.2 199.8,309.3 200.8,307.8 201.9,306.4 203.0,304.8 204.0,302.9 205.1,301.3 206.1,299.7 207.2,297.8 208.2,296.3 209.3,294.9 210.4,293.3 211.4,291.3 212.5,289.9 213.5,287.9 214.6,286.1 215.7,284.2 216.7,283.0 217.8,281.1 218.8,279.8 219.9,277.9 220.9,276.2 222.0,274.2 223.1,273.0 224.1,271.1 225.2,269.4 226.2,267.5 227.3,266.3 228.4,264.7 229.4,262.8 230.5,261.3 231.5,259.7 232.6,258.2 233.6,256.5 234.7,255.1 235.8,253.3 236.8,251.7 237.9,250.2 238.9,248.6 240.0,247.2 241.0,245.8 242.1,244.2 243.2,242.7 244.2,241.3 245.3,239.7 246.3,238.4 247.4,237.0 248.5,235.6 249.5,234.1 250.6,232.8 251.6,231.6 252.7,230.1 253.7,228.8 254.8,227.4 255.9,226.0 256.9,225.0 258.0,223.7 259.0,222.5 260.1,221.3 261.1,220.1 262.2,219.1 263.3,218.0 264.3,216.8 265.4,215.6 266.4,214.8 267.5,213.7 268.6,212.7 269.6,211.7 270.7,211.0 271.7,209.8 272.8,209.0 273.8,207.8 274.9,207.1 276.0,206.3 277.0,205.5 278.1,204.8 279.1,203.9 280.2,203.5 281.2,202.4 282.3,201.8 283.4,201.2 284.4,200.4 285.5,200.0 286.5,199.4 287.6,198.6 288.7,198.4 289.7,197.5 290.8,197.0 291.8,196.3 292.9,195.7 293.9,195.4 295.0,194.9 296.1,194.4 297.1,194.2 298.2,193.3 299.2,193.0 300.3,192.5 301.3,192.7 302.4,192.0 303.5,191.6 304.5,191.2 305.6,191.2 306.6,190.7 307.7,190.5 308.8,189.8 309.8,190.1 310.9,189.7 311.9,189.5 313.0,189.4 314.0,188.9 315.1,188.7 316.2,188.7 317.2,188.4 318.3,188.1 319.3,188.0 320.4,187.7 321.5,187.8 322.5,187.7 323.6,187.4 324.6,187.7 325.7,186.8 326.7,187.0 327.8,187.3 328.9,186.7 329.9,186.4 331.0,187.0 332.0,186.7 333.1,186.2 334.1,186.6 335.2,186.2 336.3,186.0 337.3,186.3 338.4,186.2 339.4,186.0 340.5,186.1 341.6,186.0 342.6,186.2 343.7,186.2 344.7,186.4 345.8,186.1 346.8,185.9 347.9,186.0 349.0,186.3 350.0,186.7 351.1,186.6 352.1,186.3 353.2,186.8 354.2,186.3 355.3,186.9 356.4,186.7 357.4,187.1 358.5,187.1 359.5,187.0 360.6,187.3 361.7,187.1 362.7,187.4 363.8,187.8 364.8,188.7 365.9,188.0 366.9,188.1 368.0,188.0 369.1,188.6 370.1,188.1 371.2,188.5 372.2,189.0 373.3,188.8 374.3,189.7 375.4,189.7 376.5,189.6 377.5,189.8 378.6,189.8 379.6,190.0 380.7,190.7 381.8,191.0 382.8,191.1 383.9,191.4 384.9,191.4 386.0,191.9 387.0,191.7 388.1,192.4 389.2,193.0 390.2,193.3 391.3,193.1 392.3,193.5 393.4,194.2 394.4,194.6 395.5,194.2 396.6,194.8 397.6,195.3 398.7,195.9 399.7,195.8 400.8,196.5 401.9,196.7 402.9,197.7 404.0,197.7 405.0,198.0 406.1,198.4 407.1,199.1 408.2,199.5 409.3,199.6 410.3,200.4 411.4,200.5 412.4,201.1 413.5,201.5 414.5,202.0 415.6,202.7 416.7,203.2 417.7,204.1 418.8,204.7 419.8,205.0 420.9,205.4 422.0,206.5 423.0,206.4 424.1,207.0 425.1,208.3 426.2,208.9 427.2,209.6 428.3,210.0 429.4,210.4 430.4,211.3 431.5,212.2 432.5,212.6 433.6,213.3 434.7,213.8 435.7,214.6 436.8,215.8 437.8,216.4 438.9,216.7 439.9,217.5 441.0,218.3 442.1,219.3 443.1,219.7 444.2,220.6 445.2,220.9 446.3,221.9 447.3,223.0 448.4,223.9 449.5,224.1 450.5,225.0 451.6,226.1 452.6,226.6 453.7,227.3 454.8,228.3 455.8,229.0 456.9,230.0 457.9,230.7 459.0,231.1 460.0,232.0 461.1,232.8 462.2,233.3 463.2,234.1 464.3,235.4 465.3,235.5 466.4,236.9 467.4,237.6 468.5,238.3 469.6,239.2 470.6,240.0 471.7,241.0 472.7,241.4 473.8,242.3 474.9,243.1 475.9,244.4 477.0,245.0 478.0,245.4 479.1,246.4 480.1,247.1 481.2,248.1 482.3,249.0 483.3,250.3 484.4,250.2 485.4,251.7 486.5,252.5 487.5,253.1 488.6,254.1 489.7,254.9 490.7,255.9 491.8,256.9 492.8,257.3 493.9,258.8 495.0,259.3 496.0,260.6 497.1,261.3 498.1,262.4 499.2,263.2 500.2,264.2 501.3,264.9 502.4,265.6 503.4,266.9 504.5,267.8 505.5,269.0 506.6,269.2 507.6,270.4 508.7,271.6 509.8,272.1 510.8,273.3 511.9,274.6 512.9,275.4 514.0,275.9 515.1,277.3 516.1,278.2 517.2,279.1 518.2,279.9 519.3,280.8 520.3,281.5 521.4,282.5 522.5,283.7 523.5,284.5 524.6,285.7 525.6,286.2 526.7,286.7 527.8,288.0 528.8,289.0 529.9,289.9 530.9,290.7 532.0,291.4 533.0,292.6 534.1,293.1 535.2,294.3 536.2,294.8 537.3,295.4 538.3,296.9 539.4,296.6 540.4,297.9 541.5,299.0 542.6,299.6 543.6,300.7 544.7,301.2 545.7,301.9 546.8,303.3 547.9,303.4 548.9,304.1 550.0,304.6 551.0,305.3 552.1,306.4 553.1,307.1 554.2,307.6 555.3,308.0 556.3,309.0 557.4,308.9 558.4,309.9 559.5,310.5 560.5,310.9 561.6,311.8 562.7,312.1 563.7,312.6 564.8,313.8 565.8,314.0 566.9,314.6 568.0,314.7 569.0,315.4 570.1,315.8 571.1,316.3 572.2,317.0 573.2,316.6 574.3,317.1 575.4,317.3 576.4,316.6 576.4,322.5 575.4,322.3 574.3,322.0 573.2,321.4 572.2,320.5 571.1,320.4 570.1,319.9 569.0,319.6 568.0,319.3 566.9,318.7 565.8,318.6 564.8,318.0 563.7,317.3 562.7,317.0 561.6,316.3 560.5,315.9 559.5,315.2 558.4,314.2 557.4,314.6 556.3,313.4 555.3,312.6 554.2,312.4 553.1,311.7 552.1,310.9 551.0,309.9 550.0,309.4 548.9,308.7 547.9,307.7 546.8,307.4 545.7,306.6 544.7,305.6 543.6,305.6 542.6,304.3 541.5,303.4 540.4,302.5 539.4,302.0 538.3,301.3 537.3,300.1 536.2,299.2 535.2,298.2 534.1,297.6 533.0,297.0 532.0,295.8 530.9,295.2 529.9,294.2 528.8,293.4 527.8,292.4 526.7,291.4 525.6,290.7 524.6,290.5 523.5,288.9 522.5,288.1 521.4,287.3 520.3,286.5 519.3,285.1 518.2,284.5 517.2,283.7 516.1,282.4 515.1,282.1 514.0,281.0 512.9,279.9 511.9,279.2 510.8,277.9 509.8,277.4 508.7,275.8 507.6,275.7 506.6,274.7 505.5,273.7 504.5,272.9 503.4,271.7 502.4,270.9 501.3,269.9 500.2,269.2 499.2,268.5 498.1,267.5 497.1,266.8 496.0,266.0 495.0,264.8 493.9,264.3 492.8,263.1 491.8,262.2 490.7,261.4 489.7,260.7 488.6,259.5 487.5,258.9 486.5,258.1 485.4,257.6 484.4,256.4 483.3,255.5 482.3,254.6 481.2,254.1 480.1,253.6 479.1,252.7 478.0,251.7 477.0,250.8 475.9,249.9 474.9,249.4 473.8,248.8 472.7,247.9 471.7,247.3 470.6,246.4 469.6,245.8 468.5,244.8 467.4,243.6 466.4,243.4 465.3,242.3 464.3,241.7 463.2,241.3 462.2,240.3 461.1,239.5 460.0,238.8 459.0,238.5 457.9,237.8 456.9,236.3 455.8,236.1 454.8,235.3 453.7,234.1 452.6,233.4 451.6,232.8 450.5,232.3 449.5,231.2 448.4,230.9 447.3,230.2 446.3,229.5 445.2,228.7 444.2,227.7 443.1,227.2 442.1,226.5 441.0,226.0 439.9,224.2 438.9,223.8 437.8,222.8 436.8,222.4 435.7,221.6 434.7,221.0 433.6,220.4 432.5,219.4 431.5,219.2 430.4,218.2 429.4,217.4 428.3,217.2 427.2,216.6 426.2,215.4 425.1,215.0 424.1,214.4 423.0,213.7 422.0,212.8 420.9,212.3 419.8,211.7 418.8,211.0 417.7,210.2 416.7,210.1 415.6,209.4 414.5,208.5 413.5,208.1 412.4,207.6 411.4,207.0 410.3,206.5 409.3,206.1 408.2,205.5 407.1,205.6 406.1,205.1 405.0,204.3 404.0,204.3 402.9,203.5 401.9,203.7 400.8,203.0 399.7,203.0 398.7,201.9 397.6,201.8 396.6,201.2 395.5,201.2 394.4,200.5 393.4,200.2 392.3,199.6 391.3,199.5 390.2,199.8 389.2,198.7 388.1,198.9 387.0,198.5 386.0,198.4 384.9,198.1 383.9,197.6 382.8,197.7 381.8,197.3 380.7,197.4 379.6,196.5 378.6,196.8 377.5,196.5 376.5,195.9 375.4,196.2 374.3,196.1 373.3,195.7 372.2,195.7 371.2,195.3 370.1,195.1 369.1,195.0 368.0,194.5 366.9,194.6 365.9,194.2 364.8,194.5 363.8,194.2 362.7,193.6 361.7,194.0 360.6,193.6 359.5,193.0 358.5,193.8 357.4,193.0 356.4,193.1 355.3,193.1 354.2,192.9 353.2,193.2 352.1,192.8 351.1,192.6 350.0,192.5 349.0,192.7 347.9,192.5 346.8,192.4 345.8,192.9 344.7,192.8 343.7,192.3 342.6,192.8 341.6,192.2 340.5,192.2 339.4,192.6 338.4,192.7 337.3,192.3 336.3,192.3 335.2,192.4 334.1,192.2 333.1,192.2 332.0,192.2 331.0,192.6 329.9,192.6 328.9,192.7 327.8,192.2 326.7,192.8 325.7,192.7 324.6,192.7 323.6,193.2 322.5,193.0 321.5,192.9 320.4,193.4 319.3,193.7 318.3,193.5 317.2,193.4 316.2,193.7 315.1,193.7 314.0,194.4 313.0,194.5 311.9,194.5 310.9,194.8 309.8,195.0 308.8,195.0 307.7,195.2 306.6,195.5 305.6,196.1 304.5,195.8 303.5,196.3 302.4,196.6 301.3,196.6 300.3,197.2 299.2,197.5 298.2,198.0 297.1,197.9 296.1,198.6 295.0,199.0 293.9,199.3 292.9,199.9 291.8,200.1 290.8,200.6 289.7,201.1 288.7,201.5 287.6,202.0 286.5,202.8 285.5,203.0 284.4,203.7 283.4,204.1 282.3,205.0 281.2,205.7 280.2,206.2 279.1,206.9 278.1,207.7 277.0,208.4 276.0,209.1 274.9,209.9 273.8,210.6 272.8,211.6 271.7,212.5 270.7,213.3 269.6,214.3 268.6,215.2 267.5,216.1 266.4,217.1 265.4,218.1 264.3,219.1 263.3,220.3 262.2,221.4 261.1,222.5 260.1,223.5 259.0,224.8 258.0,225.9 256.9,226.9 255.9,228.3 254.8,229.7 253.7,230.8 252.7,232.0 251.6,233.4 250.6,234.6 249.5,236.0 248.5,237.3 247.4,238.8 246.3,240.1 245.3,241.5 244.2,243.0 243.2,244.4 242.1,245.9 241.0,247.3 240.0,248.9 238.9,250.4 237.9,251.9 236.8,253.5 235.8,255.1 234.7,256.4 233.6,258.2 232.6,259.6 231.5,261.3 230.5,263.0 229.4,264.5 228.4,266.4 227.3,267.7 226.2,269.4 225.2,271.2 224.1,272.4 223.1,274.4 222.0,276.3 220.9,277.7 219.9,279.6 218.8,280.9 217.8,282.7 216.7,284.4 215.7,286.1 214.6,288.1 213.5,289.2 212.5,290.9 211.4,292.8 210.4,294.8 209.3,296.2 208.2,298.1 207.2,299.7 206.1,301.2 205.1,302.9 204.0,304.3 203.0,306.3 201.9,307.8 200.8,309.6 199.8,311.1 198.7,312.8 197.7,314.5 196.6,315.8 195.6,317.3 194.5,319.3 193.4,320.6 192.4,322.4 191.3,323.6 190.3,325.3 189.2,326.8 188.1,328.3 187.1,329.7 186.0,331.2 185.0,332.6 183.9,334.3 182.9,335.3 181.8,336.7 180.7,338.2 179.7,339.5 178.6,340.8 177.6,342.2 176.5,343.5 175.5,344.7 174.4,346.0 173.3,347.3 172.3,348.3 171.2,349.6 170.2,350.9 169.1,351.8 168.0,352.8 167.0,354.1 165.9,354.5 164.9,356.2 163.8,357.5 162.8,358.2 161.7,358.9 160.6,360.6 159.6,361.0 158.5,361.8 157.5,362.9 156.4,363.9 155.4,364.5 154.3,365.1 153.2,365.7 152.2,366.4 151.1,366.4 150.1,368.4 149.0,369.2 147.9,369.7 146.9,370.1 145.8,371.1 144.8,371.7 143.7,372.2 142.7,372.5 141.6,373.2 140.5,374.0 139.5,374.7 138.4,374.6 137.4,375.3 136.3,377.0 135.3,376.2 134.2,377.2 133.1,377.3 132.1,377.5 131.0,378.5 130.0,379.2 128.9,379.5 127.8,380.1 126.8,379.8 125.7,380.6 124.7,380.8 123.6,381.3 122.6,382.4 121.5,381.8 120.4,382.8 119.4,383.8 118.3,384.1 117.3,383.7 116.2,384.9 115.1,385.3 114.1,384.9 113.0,385.9 112.0,386.1 110.9,385.9"/><path d="M117.0,381.5l0.3,5.7M121.4,379.8l0.3,3.9M125.0,378.4l0.3,5.5M130.2,376.2l0.3,3.6M136.7,373.4l0.3,4.4M139.8,371.9l0.3,4.0M143.9,369.7l0.3,3.4M148.7,367.0l0.3,5.3M151.7,365.1l0.3,3.9M155.1,362.6l0.3,3.5M160.2,358.7l0.3,3.1M164.8,354.7l0.3,3.8M171.5,348.1l0.3,3.5M174.7,344.5l0.3,2.2M181.6,336.2l0.3,2.5M188.0,327.7l0.3,2.1M193.7,319.5l0.3,4.0M196.5,315.3l0.3,1.8M201.0,308.5l0.3,2.3M208.3,297.1l0.3,2.8" stroke="#1446a0" stroke-width="1" fill="none"/><polygon fill="#c80a14" points="110.9,395.0 112.0,394.8 113.0,395.6 114.1,395.3 115.1,394.2 116.2,393.8 117.3,394.2 118.3,393.8 119.4,394.6 120.4,392.8 121.5,392.4 122.6,393.0 123.6,392.9 124.7,392.7 125.7,392.8 126.8,393.2 127.8,391.7 128.9,391.3 130.0,390.4 131.0,391.2 132.1,391.2 133.1,390.4 134.2,390.8 135.3,389.9 136.3,390.4 137.4,389.5 138.4,388.5 139.5,388.4 140.5,387.6 141.6,387.2 142.7,387.9 143.7,387.8 144.8,388.0 145.8,386.7 146.9,386.2 147.9,385.4 149.0,386.1 150.1,385.4 151.1,384.6 152.2,384.8 153.2,384.4 154.3,382.8 155.4,383.7 156.4,383.0 157.5,382.3 158.5,381.9 159.6,382.5 160.6,381.9 161.7,381.6 162.8,379.8 163.8,379.6 164.9,379.9 165.9,378.4 167.0,378.2 168.0,377.2 169.1,378.4 170.2,377.5 171.2,376.8 172.3,376.2 173.3,375.4 174.4,374.9 175.5,374.8 176.5,373.7 177.6,374.0 178.6,372.8 179.7,372.1 180.7,372.4 181.8,371.2 182.9,371.0 183.9,370.0 185.0,368.7 186.0,369.2 187.1,367.9 188.1,368.2 189.2,366.6 190.3,365.9 191.3,366.1 192.4,365.5 193.4,364.7 194.5,363.6 195.6,363.7 196.6,362.2 197.7,361.9 198.7,361.1 199.8,360.5 200.8,360.2 201.9,359.0 203.0,358.6 204.0,357.9 205.1,356.4 206.1,355.8 207.2,355.2 208.2,354.3 209.3,353.7 210.4,352.3 211.4,352.1 212.5,351.2 213.5,350.0 214.6,348.8 215.7,348.2 216.7,347.1 217.8,346.4 218.8,345.2 219.9,344.4 220.9,343.1 222.0,342.4 223.1,340.6 224.1,339.8 225.2,339.0 226.2,337.5 227.3,336.8 228.4,335.3 229.4,334.4 230.5,333.1 231.5,332.0 232.6,330.9 233.6,329.7 234.7,328.4 235.8,327.6 236.8,326.0 237.9,324.7 238.9,323.6 240.0,322.3 241.0,321.1 242.1,319.9 243.2,318.4 244.2,317.3 245.3,316.0 246.3,314.7 247.4,313.4 248.5,312.0 249.5,310.8 250.6,309.7 251.6,308.2 252.7,307.0 253.7,305.8 254.8,304.6 255.9,303.4 256.9,301.9 258.0,300.8 259.0,299.6 260.1,298.2 261.1,297.1 262.2,296.0 263.3,294.7 264.3,293.5 265.4,292.1 266.4,291.1 267.5,289.9 268.6,288.7 269.6,287.6 270.7,286.7 271.7,285.3 272.8,284.2 273.8,283.1 274.9,282.0 276.0,280.9 277.0,279.8 278.1,278.8 279.1,277.8 280.2,276.6 281.2,275.7 282.3,274.7 283.4,273.6 284.4,272.7 285.5,271.7 286.5,270.6 287.6,269.7 288.7,268.9 289.7,267.9 290.8,266.9 291.8,266.0 292.9,265.0 293.9,264.1 295.0,263.3 296.1,262.4 297.1,261.6 298.2,260.7 299.2,259.9 300.3,259.0 301.3,258.2 302.4,257.5 303.5,256.6 304.5,255.9 305.6,254.9 306.6,254.3 307.7,253.7 308.8,252.9 309.8,252.1 310.9,251.4 311.9,250.6 313.0,250.0 314.0,249.4 315.1,248.6 316.2,248.1 317.2,247.5 318.3,246.8 319.3,246.1 320.4,245.6 321.5,244.9 322.5,244.5 323.6,243.9 324.6,243.3 325.7,242.9 326.7,242.4 327.8,241.7 328.9,241.5 329.9,240.7 331.0,240.4 332.0,240.0 333.1,239.3 334.1,239.1 335.2,238.6 336.3,238.2 337.3,237.7 338.4,237.4 339.4,236.9 340.5,236.6 341.6,236.3 342.6,235.9 343.7,235.8 344.7,235.2 345.8,234.9 346.8,234.7 347.9,234.4 349.0,234.2 350.0,234.0 351.1,233.6 352.1,233.4 353.2,233.2 354.2,233.0 355.3,232.8 356.4,232.5 357.4,232.2 358.5,232.4 359.5,232.1 360.6,231.9 361.7,231.8 362.7,231.6 363.8,231.4 364.8,231.4 365.9,231.3 366.9,231.2 368.0,231.0 369.1,231.0 370.1,231.1 371.2,230.9 372.2,230.9 373.3,230.7 374.3,230.8 375.4,230.8 376.5,230.7 377.5,230.7 378.6,230.9 379.6,230.8 380.7,231.0 381.8,230.9 382.8,231.1 383.9,231.1 384.9,231.0 386.0,231.2 387.0,231.3 388.1,231.5 389.2,231.5 390.2,231.6 391.3,231.9 392.3,232.1 393.4,232.2 394.4,232.4 395.5,232.4 396.6,232.7 397.6,232.9 398.7,233.0 399.7,233.1 400.8,233.4 401.9,233.9 402.9,233.8 404.0,234.0 405.0,234.2 406.1,234.5 407.1,234.8 408.2,234.9 409.3,235.0 410.3,235.6 411.4,235.6 412.4,236.2 413.5,236.5 414.5,236.9 415.6,237.3 416.7,237.5 417.7,237.7 418.8,237.9 419.8,238.3 420.9,238.8 422.0,238.9 423.0,239.6 424.1,239.9 425.1,240.4 426.2,240.6 427.2,241.1 428.3,241.4 429.4,241.8 430.4,242.1 431.5,242.8 432.5,243.5 433.6,243.7 434.7,244.2 435.7,244.4 436.8,245.2 437.8,245.4 438.9,246.1 439.9,246.5 441.0,246.8 442.1,247.6 443.1,247.9 444.2,248.5 445.2,249.0 446.3,249.5 447.3,249.9 448.4,250.6 449.5,251.0 450.5,251.6 451.6,252.1 452.6,252.5 453.7,253.2 454.8,253.8 455.8,254.5 456.9,255.2 457.9,255.3 459.0,256.2 460.0,256.4 461.1,257.3 462.2,258.0 463.2,258.3 464.3,259.0 465.3,259.9 466.4,260.5 467.4,261.2 468.5,261.7 469.6,262.8 470.6,263.1 471.7,263.6 472.7,264.7 473.8,265.2 474.9,265.7 475.9,266.7 477.0,267.2 478.0,268.0 479.1,268.6 480.1,269.1 481.2,270.1 482.3,270.7 483.3,271.2 484.4,272.0 485.4,273.0 486.5,273.5 487.5,274.3 488.6,275.2 489.7,275.8 490.7,276.3 491.8,277.4 492.8,278.2 493.9,279.0 495.0,279.9 496.0,280.5 497.1,281.3 498.1,282.3 499.2,282.7 500.2,283.9 501.3,284.7 502.4,285.3 503.4,286.3 504.5,287.0 505.5,287.5 506.6,288.7 507.6,289.4 508.7,290.2 509.8,291.0 510.8,292.1 511.9,292.8 512.9,293.4 514.0,294.5 515.1,295.4 516.1,296.0 517.2,296.9 518.2,297.8 519.3,298.6 520.3,299.6 521.4,300.6 522.5,301.6 523.5,302.3 524.6,303.1 525.6,303.9 526.7,304.8 527.8,305.3 528.8,306.3 529.9,307.1 530.9,307.8 532.0,308.5 533.0,309.3 534.1,310.1 535.2,310.5 536.2,311.8 537.3,312.3 538.3,313.1 539.4,313.8 540.4,314.6 541.5,314.9 542.6,315.7 543.6,315.9 544.7,316.4 545.7,317.1 546.8,318.6 547.9,318.2 548.9,319.4 550.0,320.2 551.0,320.2 552.1,321.2 553.1,321.7 554.2,321.9 555.3,322.7 556.3,322.6 557.4,322.6 558.4,323.3 559.5,323.3 560.5,323.3 561.6,323.6 562.7,324.8 563.7,324.2 564.8,324.5 565.8,324.4 566.9,324.8 568.0,324.7 569.0,324.7 570.1,324.5 571.1,324.4 572.2,324.5 573.2,324.7 574.3,325.1 575.4,324.6 576.4,324.7 576.4,328.6 575.4,329.0 574.3,329.6 573.2,329.0 572.2,329.1 571.1,329.4 570.1,329.4 569.0,329.0 568.0,329.1 566.9,329.5 565.8,329.2 564.8,329.5 563.7,329.2 562.7,328.9 561.6,328.3 560.5,328.1 559.5,327.7 558.4,327.8 557.4,327.4 556.3,327.1 555.3,326.4 554.2,326.3 553.1,325.4 552.1,325.4 551.0,324.6 550.0,324.1 548.9,323.7 547.9,322.8 546.8,322.4 545.7,321.9 544.7,321.1 543.6,320.8 542.6,320.2 541.5,319.5 540.4,318.3 539.4,318.6 538.3,317.1 537.3,316.6 536.2,315.9 535.2,315.1 534.1,314.5 533.0,313.7 532.0,313.2 530.9,312.2 529.9,311.4 528.8,310.6 527.8,309.4 526.7,308.7 525.6,308.0 524.6,307.3 523.5,306.2 522.5,305.7 521.4,304.5 520.3,303.7 519.3,302.8 518.2,302.2 517.2,300.8 516.1,300.3 515.1,299.6 514.0,298.7 512.9,298.0 511.9,297.1 510.8,296.2 509.8,295.3 508.7,294.5 507.6,293.5 506.6,292.9 505.5,292.2 504.5,291.2 503.4,290.3 502.4,289.7 501.3,288.9 500.2,288.1 499.2,287.3 498.1,286.4 497.1,285.9 496.0,284.7 495.0,284.4 493.9,283.3 492.8,282.6 491.8,282.0 490.7,281.1 489.7,280.1 488.6,279.6 487.5,278.6 486.5,278.0 485.4,277.2 484.4,277.1 483.3,275.7 482.3,275.4 481.2,274.7 480.1,273.7 479.1,273.3 478.0,272.6 477.0,271.4 475.9,270.8 474.9,270.3 473.8,269.5 472.7,268.5 471.7,268.3 470.6,267.4 469.6,266.6 468.5,266.2 467.4,265.7 466.4,265.1 465.3,264.4 464.3,263.7 463.2,263.1 462.2,262.5 461.1,261.9 460.0,261.4 459.0,260.6 457.9,260.0 456.9,259.3 455.8,258.6 454.8,258.0 453.7,257.6 452.6,257.4 451.6,256.5 450.5,256.0 449.5,255.3 448.4,255.0 447.3,254.2 446.3,253.5 445.2,253.3 444.2,252.4 443.1,252.3 442.1,251.8 441.0,251.0 439.9,250.6 438.9,250.4 437.8,249.5 436.8,249.3 435.7,248.6 434.7,248.2 433.6,247.7 432.5,247.4 431.5,246.8 430.4,246.3 429.4,246.0 428.3,245.3 427.2,244.8 426.2,244.3 425.1,244.3 424.1,243.9 423.0,243.1 422.0,243.3 420.9,242.6 419.8,242.0 418.8,241.9 417.7,241.4 416.7,241.3 415.6,240.8 414.5,240.2 413.5,240.0 412.4,239.6 411.4,239.4 410.3,239.3 409.3,238.6 408.2,238.5 407.1,238.0 406.1,237.8 405.0,237.4 404.0,237.3 402.9,237.2 401.9,236.9 400.8,236.4 399.7,236.5 398.7,236.2 397.6,235.9 396.6,235.4 395.5,235.7 394.4,235.3 393.4,235.1 392.3,235.0 391.3,234.8 390.2,234.7 389.2,234.6 388.1,234.3 387.0,234.2 386.0,234.0 384.9,233.9 383.9,233.8 382.8,233.8 381.8,233.6 380.7,233.6 379.6,233.4 378.6,233.5 377.5,233.6 376.5,233.4 375.4,233.5 374.3,233.5 373.3,233.3 372.2,233.5 371.2,233.5 370.1,233.3 369.1,233.4 368.0,233.5 366.9,233.7 365.9,233.7 364.8,233.8 363.8,233.8 362.7,233.9 361.7,234.0 360.6,234.2 359.5,234.3 358.5,234.5 357.4,234.6 356.4,234.9 355.3,234.8 354.2,235.2 353.2,235.2 352.1,235.4 351.1,235.8 350.0,235.9 349.0,236.2 347.9,236.5 346.8,236.9 345.8,237.0 344.7,237.5 343.7,237.7 342.6,238.0 341.6,238.3 340.5,238.7 339.4,239.0 338.4,239.4 337.3,239.7 336.3,240.1 335.2,240.4 334.1,241.0 333.1,241.3 332.0,241.8 331.0,242.3 329.9,242.6 328.9,243.1 327.8,243.6 326.7,244.1 325.7,244.7 324.6,245.1 323.6,245.8 322.5,246.3 321.5,246.7 320.4,247.4 319.3,248.1 318.3,248.6 317.2,249.1 316.2,249.9 315.1,250.6 314.0,251.0 313.0,251.9 311.9,252.4 310.9,253.1 309.8,253.8 308.8,254.4 307.7,255.2 306.6,256.0 305.6,256.7 304.5,257.5 303.5,258.3 302.4,259.0 301.3,259.9 300.3,260.8 299.2,261.4 298.2,262.3 297.1,263.2 296.1,264.0 295.0,264.7 293.9,265.8 292.9,266.7 291.8,267.6 290.8,268.5 289.7,269.4 288.7,270.3 287.6,271.3 286.5,272.3 285.5,273.2 284.4,274.2 283.4,275.2 282.3,276.2 281.2,277.1 280.2,278.2 279.1,279.4 278.1,280.3 277.0,281.4 276.0,282.6 274.9,283.6 273.8,284.6 272.8,285.8 271.7,287.0 270.7,288.1 269.6,289.1 268.6,290.4 267.5,291.5 266.4,292.7 265.4,294.0 264.3,295.1 263.3,296.3 262.2,297.6 261.1,298.7 260.1,299.9 259.0,301.1 258.0,302.4 256.9,303.7 255.9,305.0 254.8,306.2 253.7,307.5 252.7,308.7 251.6,310.1 250.6,311.2 249.5,312.5 248.5,313.9 247.4,315.1 246.3,316.4 245.3,317.6 244.2,319.0 243.2,320.1 242.1,321.5 241.0,322.7 240.0,324.0 238.9,325.3 237.9,326.5 236.8,327.8 235.8,329.1 234.7,330.2 233.6,331.4 232.6,332.7 231.5,333.8 230.5,334.8 229.4,336.2 228.4,337.4 227.3,338.7 226.2,340.0 225.2,341.0 224.1,342.1 223.1,343.1 222.0,344.5 220.9,345.6 219.9,346.1 218.8,347.6 217.8,348.6 216.7,349.7 215.7,350.8 214.6,351.8 213.5,353.0 212.5,353.3 211.4,354.6 210.4,355.3 209.3,357.2 208.2,357.2 207.2,358.6 206.1,359.6 205.1,360.5 204.0,360.9 203.0,361.4 201.9,362.6 200.8,363.7 199.8,363.8 198.7,365.1 197.7,366.6 196.6,367.0 195.6,367.5 194.5,367.0 193.4,369.2 192.4,369.7 191.3,370.7 190.3,370.8 189.2,371.4 188.1,372.0 187.1,372.8 186.0,374.1 185.0,373.7 183.9,374.5 182.9,375.2 181.8,375.7 180.7,376.3 179.7,376.6 178.6,377.9 177.6,379.2 176.5,378.8 175.5,379.4 174.4,379.9 173.3,380.4 172.3,380.6 171.2,380.8 170.2,381.9 169.1,381.9 168.0,382.9 167.0,383.5 165.9,383.8 164.9,385.0 163.8,384.2 162.8,385.5 161.7,385.9 160.6,386.5 159.6,386.0 158.5,388.0 157.5,388.0 156.4,388.2 155.4,388.9 154.3,389.4 153.2,390.2 152.2,390.1 151.1,390.7 150.1,390.8 149.0,392.3 147.9,391.8 146.9,392.2 145.8,393.3 144.8,391.9 143.7,392.6 142.7,393.2 141.6,393.7 140.5,394.1 139.5,394.1 138.4,395.4 137.4,394.4 136.3,395.5 135.3,395.3 134.2,396.4 133.1,396.7 132.1,396.9 131.0,396.5 130.0,397.3 128.9,397.7 127.8,397.8 126.8,397.9 125.7,399.6 124.7,399.5 123.6,398.9 122.6,399.1 121.5,398.9 120.4,399.7 119.4,400.7 118.3,400.5 117.3,401.5 116.2,400.7 115.1,399.9 114.1,401.3 113.0,400.8 112.0,401.6 110.9,402.2"/><path d="M115.1,397.8l0.3,4.6M121.0,396.6l0.3,5.0M127.7,395.0l0.3,4.6M134.7,393.1l0.3,4.9M140.2,391.4l0.3,4.9M143.2,390.5l0.3,5.2M148.9,388.5l0.3,4.3M151.6,387.5l0.3,4.5M155.6,385.9l0.3,4.5M161.5,383.5l0.3,4.9M168.8,380.2l0.3,5.4M175.1,377.1l0.3,4.9M180.1,374.5l0.3,4.0M184.2,372.3l0.3,4.1M190.1,368.8l0.3,4.0M195.3,365.5l0.3,3.7M198.9,363.1l0.3,4.5M204.9,358.6l0.3,4.6M207.7,356.4l0.3,3.7M214.2,350.8l0.3,3.3" stroke="#c80a14" stroke-width="1" fill="none"/><polygon fill="#2e2e2e" points="110.9,408.6 112.0,409.0 113.0,408.3 114.1,408.9 115.1,409.2 116.2,408.8 117.3,407.4 118.3,408.8 119.4,408.4 120.4,407.9 121.5,409.0 122.6,407.3 123.6,409.1 124.7,407.7 125.7,408.8 126.8,407.8 127.8,407.0 128.9,407.7 130.0,407.7 131.0,407.7 132.1,407.9 133.1,406.7 134.2,407.3 135.3,407.3 136.3,406.7 137.4,406.2 138.4,406.1 139.5,406.8 140.5,406.7 141.6,405.7 142.7,405.3 143.7,406.5 144.8,404.9 145.8,405.6 146.9,404.9 147.9,404.3 149.0,405.1 150.1,404.8 151.1,405.5 152.2,405.7 153.2,404.3 154.3,404.7 155.4,404.5 156.4,403.5 157.5,403.2 158.5,404.3 159.6,403.1 160.6,403.1 161.7,402.7 162.8,402.6 163.8,402.2 164.9,402.7 165.9,402.8 167.0,401.7 168.0,401.0 169.1,401.5 170.2,400.5 171.2,400.8 172.3,401.5 173.3,401.9 174.4,400.7 175.5,399.7 176.5,400.4 177.6,398.7 178.6,399.3 179.7,400.2 180.7,399.6 181.8,398.2 182.9,397.9 183.9,399.0 185.0,398.3 186.0,397.8 187.1,398.1 188.1,397.3 189.2,396.4 190.3,397.6 191.3,396.6 192.4,396.2 193.4,395.8 194.5,396.4 195.6,395.6 196.6,396.1 197.7,395.4 198.7,395.9 199.8,394.9 200.8,394.5 201.9,393.6 203.0,393.9 204.0,394.5 205.1,395.5 206.1,393.1 207.2,392.9 208.2,393.4 209.3,393.2 210.4,392.4 211.4,392.5 212.5,391.5 213.5,391.9 214.6,392.2 215.7,392.3 216.7,391.2 217.8,390.9 218.8,390.9 219.9,391.0 220.9,390.4 222.0,389.6 223.1,389.8 224.1,389.9 225.2,388.8 226.2,388.2 227.3,388.8 228.4,388.5 229.4,388.5 230.5,387.8 231.5,387.2 232.6,387.0 233.6,386.4 234.7,386.1 235.8,386.0 236.8,385.7 237.9,385.9 238.9,385.1 240.0,385.0 241.0,384.6 242.1,384.7 243.2,384.1 244.2,383.6 245.3,383.5 246.3,383.0 247.4,382.6 248.5,382.6 249.5,382.1 250.6,381.9 251.6,381.4 252.7,381.0 253.7,380.5 254.8,379.9 255.9,379.8 256.9,379.3 258.0,379.0 259.0,378.5 260.1,378.0 261.1,377.5 262.2,377.4 263.3,377.1 264.3,376.4 265.4,376.1 266.4,375.8 267.5,375.0 268.6,374.6 269.6,374.0 270.7,373.9 271.7,373.3 272.8,372.7 273.8,372.1 274.9,371.8 276.0,371.5 277.0,370.8 278.1,370.3 279.1,370.0 280.2,369.2 281.2,368.9 282.3,368.5 283.4,367.7 284.4,367.2 285.5,366.8 286.5,366.3 287.6,365.7 288.7,365.2 289.7,364.7 290.8,364.0 291.8,363.5 292.9,363.1 293.9,362.6 295.0,362.1 296.1,361.2 297.1,360.9 298.2,360.3 299.2,359.6 300.3,359.1 301.3,358.5 302.4,358.1 303.5,357.1 304.5,356.7 305.6,356.0 306.6,355.4 307.7,355.0 308.8,354.3 309.8,353.4 310.9,352.9 311.9,352.3 313.0,351.5 314.0,351.1 315.1,350.4 316.2,349.7 317.2,349.1 318.3,348.6 319.3,347.7 320.4,347.0 321.5,346.6 322.5,345.7 323.6,345.0 324.6,344.2 325.7,343.8 326.7,343.0 327.8,342.3 328.9,341.6 329.9,340.9 331.0,340.1 332.0,339.4 333.1,338.8 334.1,338.1 335.2,337.5 336.3,336.6 337.3,335.9 338.4,335.2 339.4,334.7 340.5,333.7 341.6,333.2 342.6,332.6 343.7,331.7 344.7,331.1 345.8,330.1 346.8,329.6 347.9,328.8 349.0,328.3 350.0,327.6 351.1,326.9 352.1,326.4 353.2,325.6 354.2,324.9 355.3,324.2 356.4,323.5 357.4,323.0 358.5,322.6 359.5,321.6 360.6,321.1 361.7,320.4 362.7,319.9 363.8,319.3 364.8,318.6 365.9,317.9 366.9,317.4 368.0,317.0 369.1,316.3 370.1,315.8 371.2,315.2 372.2,314.5 373.3,314.2 374.3,313.7 375.4,313.1 376.5,312.6 377.5,312.2 378.6,311.6 379.6,311.3 380.7,310.8 381.8,310.1 382.8,309.9 383.9,309.4 384.9,309.0 386.0,308.7 387.0,308.2 388.1,307.9 389.2,307.6 390.2,307.1 391.3,306.6 392.3,306.3 393.4,306.1 394.4,305.7 395.5,305.3 396.6,305.0 397.6,304.8 398.7,304.5 399.7,304.2 400.8,303.8 401.9,303.6 402.9,303.3 404.0,303.1 405.0,302.7 406.1,302.6 407.1,302.3 408.2,302.3 409.3,302.1 410.3,302.0 411.4,301.7 412.4,301.4 413.5,301.4 414.5,301.1 415.6,301.0 416.7,300.8 417.7,300.7 418.8,300.6 419.8,300.7 420.9,300.4 422.0,300.5 423.0,300.5 424.1,300.0 425.1,300.1 426.2,299.9 427.2,300.0 428.3,299.9 429.4,299.9 430.4,300.0 431.5,300.0 432.5,299.9 433.6,299.9 434.7,299.9 435.7,300.0 436.8,300.0 437.8,300.0 438.9,300.1 439.9,300.0 441.0,300.3 442.1,300.5 443.1,300.4 444.2,300.4 445.2,300.7 446.3,300.7 447.3,300.6 448.4,301.0 449.5,301.2 450.5,301.3 451.6,301.6 452.6,301.7 453.7,301.8 454.8,301.8 455.8,302.1 456.9,302.4 457.9,302.7 459.0,302.7 460.0,303.0 461.1,303.4 462.2,303.4 463.2,303.6 464.3,304.1 465.3,304.4 466.4,304.6 467.4,304.7 468.5,305.2 469.6,305.4 470.6,305.9 471.7,306.2 472.7,306.6 473.8,306.9 474.9,307.2 475.9,307.7 477.0,308.1 478.0,308.4 479.1,308.9 480.1,309.1 481.2,309.6 482.3,310.0 483.3,310.3 484.4,310.8 485.4,311.2 486.5,311.6 487.5,312.1 488.6,312.7 489.7,313.0 490.7,313.5 491.8,313.8 492.8,314.5 493.9,315.0 495.0,315.5 496.0,315.9 497.1,316.3 498.1,316.8 499.2,317.4 500.2,317.7 501.3,318.2 502.4,319.0 503.4,319.3 504.5,320.1 505.5,320.2 506.6,320.9 507.6,321.3 508.7,321.9 509.8,322.3 510.8,322.9 511.9,323.4 512.9,323.9 514.0,324.5 515.1,325.1 516.1,325.4 517.2,326.0 518.2,326.4 519.3,326.9 520.3,327.6 521.4,327.6 522.5,328.2 523.5,328.5 524.6,329.2 525.6,329.7 526.7,330.6 527.8,330.6 528.8,331.2 529.9,331.6 530.9,331.8 532.0,332.3 533.0,332.9 534.1,333.1 535.2,333.5 536.2,333.9 537.3,333.8 538.3,334.4 539.4,335.0 540.4,335.3 541.5,335.3 542.6,335.8 543.6,336.1 544.7,336.4 545.7,336.9 546.8,337.0 547.9,337.2 548.9,337.0 550.0,337.3 551.0,337.8 552.1,337.5 553.1,338.1 554.2,338.0 555.3,338.0 556.3,338.5 557.4,338.2 558.4,338.2 559.5,338.2 560.5,338.4 561.6,339.2 562.7,337.7 563.7,338.2 564.8,338.0 565.8,338.2 566.9,337.6 568.0,336.8 569.0,337.7 570.1,336.7 571.1,336.7 572.2,336.0 573.2,335.7 574.3,335.5 575.4,335.5 576.4,335.1 576.4,339.7 575.4,340.9 574.3,340.6 573.2,341.0 572.2,342.2 571.1,341.9 570.1,342.0 569.0,342.2 568.0,342.4 566.9,343.2 565.8,342.6 564.8,342.6 563.7,343.1 562.7,342.7 561.6,343.4 560.5,342.7 559.5,343.2 558.4,343.5 557.4,342.9 556.3,342.9 555.3,342.6 554.2,342.4 553.1,342.5 552.1,341.8 551.0,342.1 550.0,341.5 548.9,341.3 547.9,341.8 546.8,341.1 545.7,341.1 544.7,340.0 543.6,340.0 542.6,339.6 541.5,339.4 540.4,339.0 539.4,338.3 538.3,338.3 537.3,337.9 536.2,337.5 535.2,337.0 534.1,336.9 533.0,336.3 532.0,335.8 530.9,335.5 529.9,334.9 528.8,334.6 527.8,333.7 526.7,333.6 525.6,333.0 524.6,332.6 523.5,332.0 522.5,331.5 521.4,331.0 520.3,330.6 519.3,330.1 518.2,329.6 517.2,329.0 516.1,328.5 515.1,327.8 514.0,327.5 512.9,326.9 511.9,326.2 510.8,325.9 509.8,325.5 508.7,325.0 507.6,324.2 506.6,323.9 505.5,323.1 504.5,322.7 503.4,322.1 502.4,321.9 501.3,321.3 500.2,320.7 499.2,320.1 498.1,319.4 497.1,319.3 496.0,318.7 495.0,318.2 493.9,317.6 492.8,317.0 491.8,316.7 490.7,316.2 489.7,315.6 488.6,315.3 487.5,314.7 486.5,314.1 485.4,313.8 484.4,313.4 483.3,312.7 482.3,312.4 481.2,312.1 480.1,311.7 479.1,311.3 478.0,310.8 477.0,310.5 475.9,310.2 474.9,309.8 473.8,309.4 472.7,309.1 471.7,308.6 470.6,308.4 469.6,307.9 468.5,307.6 467.4,307.1 466.4,306.9 465.3,306.7 464.3,306.3 463.2,306.2 462.2,305.9 461.1,305.5 460.0,305.4 459.0,305.1 457.9,304.9 456.9,304.7 455.8,304.4 454.8,304.2 453.7,304.1 452.6,304.0 451.6,303.6 450.5,303.7 449.5,303.3 448.4,303.4 447.3,303.2 446.3,303.0 445.2,302.9 444.2,302.7 443.1,302.8 442.1,302.6 441.0,302.6 439.9,302.5 438.9,302.4 437.8,302.3 436.8,302.4 435.7,302.2 434.7,302.1 433.6,302.1 432.5,302.3 431.5,302.1 430.4,302.1 429.4,302.2 428.3,302.2 427.2,302.5 426.2,302.5 425.1,302.4 424.1,302.5 423.0,302.5 422.0,302.6 420.9,302.8 419.8,302.8 418.8,302.9 417.7,303.0 416.7,303.2 415.6,303.4 414.5,303.6 413.5,303.7 412.4,303.9 411.4,303.8 410.3,304.2 409.3,304.5 408.2,304.3 407.1,304.9 406.1,305.0 405.0,305.4 404.0,305.5 402.9,305.6 401.9,306.2 400.8,306.3 399.7,306.5 398.7,306.7 397.6,307.1 396.6,307.5 395.5,307.6 394.4,307.9 393.4,308.4 392.3,308.7 391.3,309.0 390.2,309.5 389.2,309.8 388.1,310.3 387.0,310.5 386.0,310.9 384.9,311.4 383.9,311.8 382.8,312.3 381.8,312.6 380.7,313.3 379.6,313.8 378.6,314.1 377.5,314.8 376.5,315.1 375.4,315.6 374.3,316.2 373.3,316.7 372.2,317.1 371.2,317.6 370.1,318.2 369.1,318.9 368.0,319.5 366.9,320.1 365.9,320.5 364.8,321.2 363.8,321.8 362.7,322.4 361.7,323.0 360.6,323.6 359.5,324.4 358.5,324.9 357.4,325.5 356.4,326.3 355.3,326.8 354.2,327.5 353.2,328.1 352.1,328.8 351.1,329.5 350.0,330.2 349.0,330.9 347.9,331.5 346.8,332.5 345.8,333.0 344.7,334.0 343.7,334.5 342.6,335.2 341.6,335.8 340.5,336.5 339.4,337.3 338.4,338.1 337.3,338.7 336.3,339.4 335.2,340.0 334.1,341.0 333.1,341.6 332.0,342.4 331.0,343.0 329.9,343.6 328.9,344.3 327.8,345.4 326.7,345.9 325.7,346.7 324.6,347.2 323.6,347.9 322.5,349.0 321.5,349.4 320.4,350.0 319.3,350.7 318.3,351.6 317.2,352.0 316.2,352.9 315.1,353.4 314.0,354.4 313.0,354.9 311.9,355.3 310.9,356.2 309.8,356.9 308.8,357.4 307.7,358.1 306.6,358.8 305.6,359.5 304.5,360.1 303.5,360.6 302.4,361.5 301.3,362.1 300.3,362.8 299.2,363.6 298.2,363.8 297.1,364.4 296.1,365.1 295.0,365.9 293.9,366.3 292.9,366.8 291.8,367.4 290.8,368.0 289.7,368.5 288.7,369.0 287.6,369.8 286.5,370.2 285.5,371.1 284.4,371.3 283.4,371.9 282.3,372.5 281.2,372.9 280.2,373.7 279.1,373.9 278.1,374.5 277.0,375.1 276.0,375.4 274.9,376.2 273.8,376.5 272.8,377.3 271.7,377.6 270.7,378.1 269.6,378.8 268.6,379.3 267.5,379.8 266.4,380.2 265.4,380.5 264.3,380.8 263.3,381.4 262.2,381.9 261.1,382.2 260.1,382.7 259.0,383.0 258.0,383.8 256.9,384.0 255.9,384.2 254.8,384.7 253.7,385.5 252.7,385.6 251.6,386.0 250.6,386.3 249.5,386.7 248.5,387.2 247.4,387.3 246.3,387.7 245.3,388.0 244.2,388.6 243.2,389.0 242.1,389.6 241.0,389.4 240.0,390.0 238.9,390.2 237.9,390.4 236.8,391.1 235.8,391.8 234.7,392.6 233.6,391.3 232.6,392.0 231.5,393.0 230.5,393.2 229.4,392.8 228.4,393.0 227.3,393.8 226.2,394.0 225.2,394.3 224.1,394.9 223.1,394.4 222.0,395.9 220.9,395.9 219.9,395.5 218.8,396.7 217.8,395.9 216.7,397.4 215.7,397.2 214.6,397.5 213.5,397.6 212.5,398.3 211.4,397.4 210.4,397.7 209.3,399.0 208.2,399.2 207.2,399.1 206.1,399.4 205.1,399.3 204.0,400.3 203.0,400.8 201.9,400.0 200.8,401.2 199.8,401.0 198.7,400.7 197.7,401.3 196.6,402.0 195.6,401.8 194.5,402.0 193.4,402.8 192.4,403.0 191.3,403.7 190.3,402.8 189.2,402.9 188.1,404.1 187.1,404.3 186.0,404.0 185.0,404.4 183.9,404.9 182.9,404.6 181.8,406.4 180.7,406.0 179.7,405.7 178.6,405.8 177.6,406.2 176.5,406.9 175.5,407.6 174.4,407.2 173.3,407.1 172.3,407.6 171.2,408.0 170.2,408.8 169.1,407.7 168.0,409.3 167.0,409.8 165.9,409.5 164.9,408.8 163.8,409.5 162.8,409.8 161.7,409.2 160.6,410.2 159.6,409.7 158.5,410.5 157.5,410.5 156.4,410.8 155.4,411.0 154.3,411.6 153.2,411.8 152.2,411.5 151.1,412.4 150.1,412.6 149.0,411.5 147.9,413.0 146.9,413.3 145.8,412.6 144.8,412.8 143.7,414.0 142.7,413.4 141.6,414.8 140.5,413.7 139.5,413.9 138.4,413.4 137.4,415.0 136.3,414.2 135.3,414.0 134.2,415.0 133.1,416.1 132.1,415.1 131.0,414.5 130.0,415.2 128.9,416.5 127.8,414.4 126.8,416.3 125.7,415.9 124.7,416.3 123.6,415.7 122.6,417.0 121.5,415.7 120.4,416.3 119.4,416.5 118.3,416.3 117.3,416.2 116.2,416.9 115.1,416.7 114.1,416.7 113.0,416.5 112.0,417.1 110.9,416.5"/><path d="" stroke="#2e2e2e" stroke-width="1" fill="none"/></g>
<rect x="95.3" y="31.4" width="45.3" height="26.8" fill="#fff" stroke="#333" stroke-width="1"/>
<text x="98.2" y="50.6">25<tspan dx="1.3" style="font-family:'IPAGothic',sans-serif;font-weight:normal;font-size:17.5px">℃</tspan></text>
<g><rect x="483.6" y="26.2" width="119.2" height="195.8" fill="#fff" stroke="#333" stroke-width="1"/><line x1="485.8" y1="39.50" x2="528.7" y2="39.50" stroke="#6a6a6a" stroke-width="1.2"/><text x="534.5" y="46.00">50 mA</text><line x1="485.8" y1="63.50" x2="528.7" y2="63.50" stroke="#b02a30" stroke-width="1.2"/><text x="534.5" y="70.20">100 mA</text><line x1="485.8" y1="88.50" x2="528.7" y2="88.50" stroke="#2e62b4" stroke-width="1.2"/><text x="534.5" y="94.40">150 mA</text><line x1="485.8" y1="112.50" x2="528.7" y2="112.50" stroke="#2e6a56" stroke-width="1.2"/><text x="534.5" y="118.60">200 mA</text><line x1="485.8" y1="136.50" x2="528.7" y2="136.50" stroke="#8e3ed0" stroke-width="1.2"/><text x="534.5" y="142.80">250 mA</text><line x1="485.8" y1="160.50" x2="528.7" y2="160.50" stroke="#a08c48" stroke-width="1.2"/><text x="534.5" y="167.00">300 mA</text><line x1="485.8" y1="184.50" x2="528.7" y2="184.50" stroke="#3aa8b8" stroke-width="1.2"/><text x="534.5" y="191.20">350 mA</text><line x1="485.8" y1="209.50" x2="528.7" y2="209.50" stroke="#7a6262" stroke-width="1.2"/><text x="534.5" y="215.40">400 mA</text></g>
<rect x="68.60" y="13.95" width="550.13" height="448.14" fill="none" stroke="#111" stroke-width="2"/>
<g class="tk"><line x1="89.76" y1="462.09" x2="89.76" y2="457.59"/><line x1="110.92" y1="462.09" x2="110.92" y2="454.09"/><line x1="132.08" y1="462.09" x2="132.08" y2="457.59"/><line x1="153.24" y1="462.09" x2="153.24" y2="454.09"/><line x1="174.39" y1="462.09" x2="174.39" y2="457.59"/><line x1="195.55" y1="462.09" x2="195.55" y2="454.09"/><line x1="216.71" y1="462.09" x2="216.71" y2="457.59"/><line x1="237.87" y1="462.09" x2="237.87" y2="454.09"/><line x1="259.03" y1="462.09" x2="259.03" y2="457.59"/><line x1="280.19" y1="462.09" x2="280.19" y2="454.09"/><line x1="301.35" y1="462.09" x2="301.35" y2="457.59"/><line x1="322.51" y1="462.09" x2="322.51" y2="454.09"/><line x1="343.67" y1="462.09" x2="343.67" y2="457.59"/><line x1="364.83" y1="462.09" x2="364.83" y2="454.09"/><line x1="385.99" y1="462.09" x2="385.99" y2="457.59"/><line x1="407.14" y1="462.09" x2="407.14" y2="454.09"/><line x1="428.30" y1="462.09" x2="428.30" y2="457.59"/><line x1="449.46" y1="462.09" x2="449.46" y2="454.09"/><line x1="470.62" y1="462.09" x2="470.62" y2="457.59"/><line x1="491.78" y1="462.09" x2="491.78" y2="454.09"/><line x1="512.94" y1="462.09" x2="512.94" y2="457.59"/><line x1="534.10" y1="462.09" x2="534.10" y2="454.09"/><line x1="555.26" y1="462.09" x2="555.26" y2="457.59"/><line x1="576.42" y1="462.09" x2="576.42" y2="454.09"/><line x1="597.58" y1="462.09" x2="597.58" y2="457.59"/><line x1="68.60" y1="32.62" x2="73.10" y2="32.62"/><line x1="68.60" y1="51.30" x2="76.60" y2="51.30"/><line x1="68.60" y1="69.97" x2="73.10" y2="69.97"/><line x1="68.60" y1="88.64" x2="76.60" y2="88.64"/><line x1="68.60" y1="107.31" x2="73.10" y2="107.31"/><line x1="68.60" y1="125.99" x2="76.60" y2="125.99"/><line x1="68.60" y1="144.66" x2="73.10" y2="144.66"/><line x1="68.60" y1="163.33" x2="76.60" y2="163.33"/><line x1="68.60" y1="182.00" x2="73.10" y2="182.00"/><line x1="68.60" y1="200.67" x2="76.60" y2="200.67"/><line x1="68.60" y1="219.35" x2="73.10" y2="219.35"/><line x1="68.60" y1="238.02" x2="76.60" y2="238.02"/><line x1="68.60" y1="256.69" x2="73.10" y2="256.69"/><line x1="68.60" y1="275.37" x2="76.60" y2="275.37"/><line x1="68.60" y1="294.04" x2="73.10" y2="294.04"/><line x1="68.60" y1="312.71" x2="76.60" y2="312.71"/><line x1="68.60" y1="331.38" x2="73.10" y2="331.38"/><line x1="68.60" y1="350.06" x2="76.60" y2="350.06"/><line x1="68.60" y1="368.73" x2="73.10" y2="368.73"/><line x1="68.60" y1="387.40" x2="76.60" y2="387.40"/><line x1="68.60" y1="406.07" x2="73.10" y2="406.07"/><line x1="68.60" y1="424.75" x2="76.60" y2="424.75"/><line x1="68.60" y1="443.42" x2="73.10" y2="443.42"/></g>
<g><text x="59.7" y="19.65" text-anchor="end">-15</text><text x="59.7" y="57.00" text-anchor="end">-20</text><text x="59.7" y="94.34" text-anchor="end">-25</text><text x="59.7" y="131.69" text-anchor="end">-30</text><text x="59.7" y="169.03" text-anchor="end">-35</text><text x="59.7" y="206.37" text-anchor="end">-40</text><text x="59.7" y="243.72" text-anchor="end">-45</text><text x="59.7" y="281.06" text-anchor="end">-50</text><text x="59.7" y="318.41" text-anchor="end">-55</text><text x="59.7" y="355.75" text-anchor="end">-60</text><text x="59.7" y="393.10" text-anchor="end">-65</text><text x="59.7" y="430.44" text-anchor="end">-70</text><text x="59.7" y="467.79" text-anchor="end">-75</text><text x="68.60" y="486.4" text-anchor="middle">1420</text><text x="110.92" y="486.4" text-anchor="middle">1440</text><text x="153.24" y="486.4" text-anchor="middle">1460</text><text x="195.55" y="486.4" text-anchor="middle">1480</text><text x="237.87" y="486.4" text-anchor="middle">1500</text><text x="280.19" y="486.4" text-anchor="middle">1520</text><text x="322.51" y="486.4" text-anchor="middle">1540</text><text x="364.83" y="486.4" text-anchor="middle">1560</text><text x="407.14" y="486.4" text-anchor="middle">1580</text><text x="449.46" y="486.4" text-anchor="middle">1600</text><text x="491.78" y="486.4" text-anchor="middle">1620</text><text x="534.10" y="486.4" text-anchor="middle">1640</text><text x="576.42" y="486.4" text-anchor="middle">1660</text><text x="618.73" y="486.4" text-anchor="middle">1680</text></g>
<text x="343" y="513.3" text-anchor="middle" style="font-size:20.8px">Wavelength (nm)</text>
<text transform="translate(20.5,237.6) rotate(-90)" text-anchor="middle" style="font-size:21px">ASE power (dBm)</text>
</svg>
</body></html>
